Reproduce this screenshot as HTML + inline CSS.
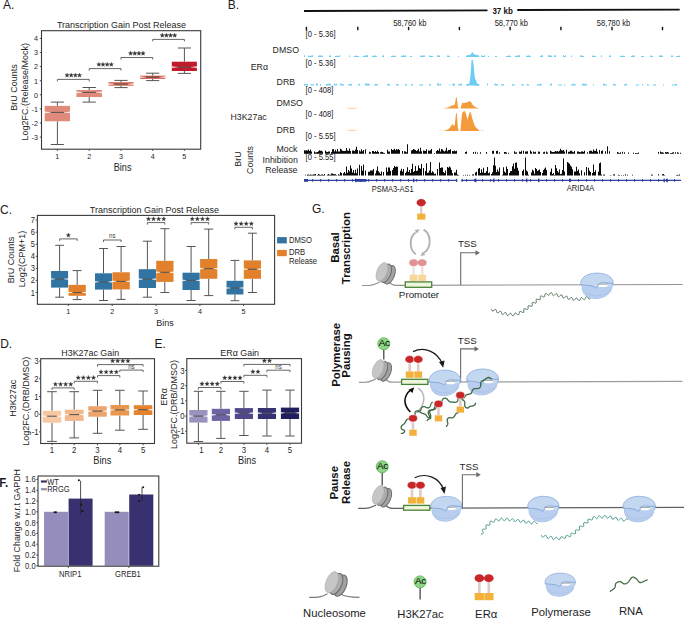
<!DOCTYPE html>
<html><head><meta charset="utf-8"><style>
html,body{margin:0;padding:0;background:#fff;width:685px;height:619px;overflow:hidden}
svg{display:block}
text{font-family:"Liberation Sans",sans-serif}
</style></head><body>
<svg width="685" height="619" viewBox="0 0 685 619">
<defs>
<g id="pol">
 <path d="M0.4 10.6 C0.4 4.2 8 0.2 16.6 0.2 C25.4 0.2 32.8 4.2 32.8 9.8 C32.8 12 32 13.6 31 15 C31 19.5 26.5 23 20.5 24.9 C16.5 26 10.5 25.8 6.5 23.4 C3 21 1.6 16.5 1.9 13.6 C1 12.6 0.4 11.6 0.4 10.6Z" fill="#c4d7f1" stroke="#86acdd" stroke-width="0.8"/>
 <path d="M1.9 13.2 C6 13.8 10 12.8 13.6 14.4 C16.4 15.8 18.8 16 19 14 L27 14 C29 13.6 31 13.8 31 15 C31 19.5 26.5 23 20.5 24.9 C16.5 26 10.5 25.8 6.5 23.4 C3 21 1.6 16.5 1.9 13.2Z" fill="#b9ceee"/>
 <path d="M4.5 19.5 C9 22.5 15 23.5 20.5 22.3 C25 21.3 28.5 19.2 30.6 16.2" fill="none" stroke="#a3bfe6" stroke-width="0.7"/>
 <ellipse cx="22.4" cy="12.2" rx="5.0" ry="2.0" fill="#ffffff"/>
 <line x1="17.5" y1="11.2" x2="27.3" y2="11.2" stroke="#8a8a8a" stroke-width="0.9"/>
 <path d="M0.8 11.8 C5 12.8 10 12 13.6 13.8 C16 15.4 17.2 15.4 17.3 13.4 C17.6 11 20 9.6 23 9.7 C26.5 9.9 29.5 10.5 32.8 10.4" fill="none" stroke="#78a0d6" stroke-width="0.85"/>
</g>
<g id="nuc">
 <ellipse cx="7.6" cy="3.0" rx="5.0" ry="9.8" transform="rotate(22 7.6 3.0)" fill="#a2a2a2" stroke="#6a6a6a" stroke-width="0.9"/>
 <ellipse cx="3.8" cy="1.5" rx="5.0" ry="9.8" transform="rotate(22 3.8 1.5)" fill="#ababab" stroke="#6a6a6a" stroke-width="0.9"/>
 <ellipse cx="0" cy="0" rx="5.0" ry="9.8" transform="rotate(22)" fill="#c6c6c6" stroke="#a8a8a8" stroke-width="0.5"/>
</g>
<g id="era">
 <rect x="-1.3" y="4" width="2.6" height="8" fill="#dccbc6"/>
 <rect x="-3.9" y="12" width="7.8" height="6.4" fill="#f2b13a"/>
 <ellipse cx="0" cy="0" rx="4.7" ry="3.8" fill="#c8272a" stroke="#fff" stroke-width="0.5"/>
</g>
<g id="ac">
 <circle cx="0" cy="0" r="6.0" fill="#8fd488" stroke="#5cb955" stroke-width="0.9"/>
 <text x="0.3" y="2.4" font-size="9.9" text-anchor="middle" fill="#000" letter-spacing="-0.3">Ac</text>
</g>
</defs>
<text transform="translate(339.2,247.5) rotate(-90)" font-size="11.4" text-anchor="middle" fill="#111" font-weight="bold">Basal</text>
<text transform="translate(350.1,248.1) rotate(-90)" font-size="11.4" text-anchor="middle" fill="#111" font-weight="bold">Transcription</text>
<path d="M362.0 285.5 L368.9 285.5 C373.9 285.5 375.9 283.7 379.9 282.1 M389.4 282.2 C391.4 284.8 392.9 285.4 395.9 285.4 L682.7 284.5" fill="none" stroke="#939393" stroke-width="1.1"/>
<use href="#nuc" transform="translate(381.9,271.8) scale(1.000)"/>
<rect x="405.3" y="281.9" width="26.4" height="5.4" fill="#eef5dd" stroke="#4a8236" stroke-width="1.3"/>
<text transform="translate(419.00,298.20) scale(1,0.92)" font-size="9.8" text-anchor="middle" fill="#1e1e1e">Promoter</text>
<use href="#era" transform="translate(413.6,262.7) scale(1.000)" opacity="0.5"/>
<use href="#era" transform="translate(422.2,262.7) scale(1.000)" opacity="0.5"/>
<path d="M415.8 254.2 C409.5 250, 408.6 237.5, 415.6 232.6" fill="none" stroke="#b0b0b0" stroke-width="1.8"/>
<path d="M419.6 229.2 L417.1 233.6 L414.6 230.0Z" fill="#b0b0b0"/>
<path d="M423.6 229.6 C431.2 233.5, 432 247.5, 424 252.8" fill="none" stroke="#b0b0b0" stroke-width="1.8"/>
<path d="M420.4 256.0 L422.8 251.5 L425.4 255.0Z" fill="#b0b0b0"/>
<rect x="420" y="206" width="2.4" height="8" fill="#dccbc6"/>
<rect x="417.2" y="213.6" width="8.2" height="6" fill="#f2b13a"/>
<ellipse cx="421.2" cy="202.6" rx="4.6" ry="3.6" fill="#c8272a"/>
<path d="M460.7 285.2 V252.8 H476.0" fill="none" stroke="#6c6c6c" stroke-width="1.1"/>
<path d="M475.5 250.2 L480.0 252.8 L475.5 255.4Z" fill="#6c6c6c"/>
<text transform="translate(457.90,247.40) scale(1,0.92)" font-size="9.7" text-anchor="start" fill="#1e1e1e">TSS</text>
<path d="M491.7 309.3 L491.8 309.8 L492.0 310.4 L492.2 310.9 L492.6 311.1 L493.2 310.9 L493.9 310.4 L494.7 309.8 L495.5 309.4 L496.0 309.6 L496.4 310.3 L496.6 311.4 L496.9 312.4 L497.4 312.9 L498.2 312.7 L499.1 312.0 L499.9 311.3 L500.6 311.1 L501.0 311.6 L501.4 312.4 L501.7 313.4 L502.0 314.2 L502.5 314.5 L503.1 314.3 L503.8 313.7 L504.5 313.0 L505.1 312.5 L505.7 312.5 L506.1 313.0 L506.5 313.8 L506.8 314.7 L507.3 315.4 L507.8 315.6 L508.4 315.3 L509.0 314.6 L509.6 313.9 L510.1 313.3 L510.5 313.2 L511.0 313.5 L511.4 314.2 L511.9 314.9 L512.4 315.6 L512.9 315.9 L513.4 315.8 L513.8 315.4 L514.2 314.7 L514.5 314.0 L514.8 313.3 L515.1 312.9 L515.5 312.9 L516.0 313.1 L516.5 313.6 L517.1 314.1 L517.7 314.6 L518.3 314.8 L518.7 314.7 L519.0 314.2 L519.2 313.5 L519.3 312.7 L519.5 311.9 L519.8 311.4 L520.1 311.3 L520.7 311.4 L521.5 311.8 L522.3 312.3 L523.0 312.5 L523.6 312.4 L523.8 311.8 L523.9 310.9 L523.8 310.0 L523.9 309.2 L524.2 308.7 L524.8 308.7 L525.6 308.9 L526.5 309.3 L527.3 309.5 L527.8 309.4 L528.1 309.0 L528.1 308.2 L528.1 307.3 L528.1 306.5 L528.2 305.9 L528.6 305.6 L529.1 305.7 L529.9 305.9 L530.7 306.2 L531.4 306.4 L531.9 306.3 L532.2 306.0 L532.3 305.4 L532.3 304.7 L532.2 303.9 L532.1 303.2 L532.2 302.7 L532.6 302.4 L533.2 302.4 L533.9 302.6 L534.6 302.9 L535.3 303.1 L535.9 303.1 L536.2 302.8 L536.3 302.3 L536.3 301.6 L536.2 300.7 L536.1 300.0 L536.2 299.4 L536.6 299.1 L537.1 299.1 L537.9 299.3 L538.7 299.6 L539.4 299.8 L539.9 299.8 L540.2 299.5 L540.3 299.0 L540.3 298.3 L540.3 297.5 L540.3 296.7 L540.4 296.2 L540.7 295.9 L541.2 295.9 L541.8 296.0 L542.4 296.4 L543.0 296.7 L543.6 297.0 L544.0 297.0 L544.4 296.9 L544.6 296.5 L544.7 295.9 L544.8 295.2 L544.9 294.5 L545.1 294.0 L545.3 293.6 L545.7 293.4 L546.1 293.5 L546.6 293.8 L547.1 294.2 L547.6 294.7 L548.0 295.1 L548.4 295.3 L548.7 295.4 L549.0 295.2 L549.2 294.9 L549.5 294.4 L549.8 293.9 L550.1 293.4 L550.5 292.9 L550.8 292.7 L551.2 292.6 L551.5 292.7 L551.8 293.1 L552.1 293.6 L552.4 294.1 L552.6 294.7 L552.8 295.2 L553.1 295.5 L553.4 295.7 L553.8 295.6 L554.2 295.3 L554.7 294.8 L555.2 294.3 L555.7 293.8 L556.1 293.5 L556.6 293.5 L556.9 293.8 L557.2 294.4 L557.5 295.2 L557.7 295.9 L558.0 296.5 L558.4 296.7 L558.9 296.7 L559.4 296.3 L560.0 295.7 L560.7 295.2 L561.2 294.8 L561.7 294.8 L562.0 295.2 L562.3 295.9 L562.6 296.7 L562.8 297.4 L563.2 297.9 L563.6 298.1 L564.1 297.9 L564.6 297.4 L565.2 296.9 L565.8 296.4 L566.4 296.1 L566.8 296.2 L567.2 296.7 L567.4 297.4 L567.7 298.3 L567.9 298.9 L568.3 299.4 L568.7 299.4 L569.3 299.1 L569.9 298.6 L570.4 298.0 L570.9 297.6 L571.4 297.4 L571.8 297.5 L572.1 297.9 L572.4 298.5 L572.6 299.1 L572.9 299.7 L573.2 300.2 L573.6 300.4 L573.9 300.4 L574.3 300.2 L574.7 299.8 L575.1 299.4 L575.5 298.8 L575.8 298.4 L576.1 298.1 L576.4 298.0 L576.7 298.1 L577.0 298.3 L577.4 298.7 L577.7 299.2 L578.0 299.8 L578.4 300.2 L578.7 300.5 L579.1 300.6 L579.5 300.5 L579.8 300.2 L580.1 299.7 L580.4 299.1 L580.6 298.5 L580.9 298.0 L581.2 297.7 L581.5 297.6 L581.9 297.7 L582.3 298.1 L582.8 298.5 L583.2 299.0 L583.7 299.4 L584.1 299.6 L584.4 299.7 L584.7 299.6 L585.0 299.2 L585.2 298.8 L585.4 298.2 L585.6 297.7 L585.9 297.2 L586.2 296.9 L586.4 296.7 L586.8 296.6 L587.1 296.8 L587.4 297.1 L587.8 297.5 L588.1 297.9 L588.4 298.4 L588.7 298.7 L589.0 299.0 L589.3 299.1 L589.6 299.0 L589.8 298.9 L590.0 298.7 L590.2 298.4 L590.4 298.1 L590.5 297.8 L590.7 297.5 L590.8 297.3" fill="none" stroke="#52705a" stroke-width="1.0" stroke-linecap="round" stroke-linejoin="round"/>
<use href="#pol" transform="translate(580.3,272.9) scale(1.003,1.000)"/>
<text transform="translate(339.6,354.8) rotate(-90)" font-size="11.4" text-anchor="middle" fill="#111" font-weight="bold">Polymerase</text>
<text transform="translate(349.5,355.5) rotate(-90)" font-size="11.4" text-anchor="middle" fill="#111" font-weight="bold">Pausing</text>
<path d="M358.9 382.3 L365.1 382.3 C370.1 382.3 372.1 380.5 376.1 378.9 M385.6 379.0 C387.6 381.6 389.1 382.2 392.1 382.2 L682.4 381.3" fill="none" stroke="#9c9c9c" stroke-width="1.3"/>
<line x1="383.8" y1="348.8" x2="383.8" y2="359.5" stroke="#3a3a3a" stroke-width="1.2"/>
<use href="#ac" transform="translate(383.8,343.8)"/>
<use href="#nuc" transform="translate(378.1,368.9) scale(1.000)"/>
<rect x="401.6" y="379.3" width="26.3" height="5.1" fill="#eef5dd" stroke="#4a8236" stroke-width="1.3"/>
<use href="#era" transform="translate(409.7,359.4) scale(1.000)"/>
<use href="#era" transform="translate(418.2,359.4) scale(1.000)"/>
<path d="M413 351.6 C425 346, 437 352, 442 363" fill="none" stroke="#1a1a1a" stroke-width="1.2"/>
<path d="M439 362 L443.2 367.8 L444.6 360.6Z" fill="#1a1a1a"/>
<path d="M410.4 412 C403 405, 403 396, 411 389.6" fill="none" stroke="#111" stroke-width="1.6"/>
<path d="M408.5 389.8 L414.2 387.2 L412.5 393Z" fill="#111"/>
<path d="M418 388.2 C426 393, 426 405, 416.3 412.7" fill="none" stroke="#b8b8b8" stroke-width="1.5"/>
<path d="M460.6 381.9 V348.9 H475.0" fill="none" stroke="#6c6c6c" stroke-width="1.1"/>
<path d="M474.5 346.3 L479.0 348.9 L474.5 351.5Z" fill="#6c6c6c"/>
<text transform="translate(457.80,344.00) scale(1,0.92)" font-size="9.7" text-anchor="start" fill="#1e1e1e">TSS</text>
<use href="#pol" transform="translate(428.8,369.9) scale(0.964,1.008)"/>
<use href="#pol" transform="translate(466.2,368.8) scale(0.985,1.020)"/>
<path d="M401.4 433.4 L401.5 433.4 L401.6 433.4 L401.8 433.3 L402.0 433.3 L402.2 433.3 L402.4 433.3 L402.6 433.2 L402.8 433.2 L403.0 433.1 L403.3 433.0 L403.5 432.9 L403.7 432.8 L403.9 432.6 L404.0 432.5 L404.2 432.3 L404.3 432.1 L404.5 431.9 L404.5 431.6 L404.6 431.3 L404.6 431.1 L404.6 430.8 L404.5 430.5 L404.4 430.3 L404.2 430.2 L404.1 430.1 L403.9 430.0 L403.7 429.9 L403.6 429.9 L403.4 429.9 L403.2 429.8 L403.0 429.8 L402.8 429.8 L402.6 429.7 L402.4 429.7 L402.2 429.6 L402.0 429.5 L401.9 429.3 L401.7 429.1 L401.5 428.9 L401.4 428.7 L401.3 428.5 L401.3 428.2 L401.2 428.0 L401.2 427.8 L401.2 427.5 L401.2 427.2 L401.2 427.0 L401.3 426.7 L401.4 426.4 L401.6 426.2 L401.7 425.9 L401.9 425.6 L402.1 425.4 L402.4 425.2 L402.6 425.0 L402.8 424.8 L403.0 424.6 L403.3 424.5 L403.5 424.3 L403.6 424.2 L403.8 424.1 L404.0 424.0 L404.1 423.9 L404.3 423.7 L404.4 423.6 L404.6 423.4 L404.7 423.2 L404.8 423.0 L405.0 422.8 L405.1 422.6 L405.2 422.3 L405.3 422.1 L405.5 421.8 L405.6 421.5 L405.7 421.2 L405.9 420.9 L406.1 420.7 L406.2 420.4 L406.4 420.1 L406.6 419.9 L406.9 419.6 L407.1 419.4 L407.5 419.3 L407.8 419.1 L408.2 419.1 L408.6 419.0 L409.0 419.1 L409.4 419.1 L409.8 419.2 L410.3 419.3 L410.7 419.4 L411.1 419.5 L411.5 419.5 L411.8 419.5 L412.2 419.5 L412.5 419.5 L412.7 419.5 L413.0 419.4 L413.2 419.3 L413.3 419.2" fill="none" stroke="#3e6a46" stroke-width="1.3" stroke-linecap="round" stroke-linejoin="round"/>
<path d="M413.0 418.3 L413.2 418.2 L413.4 418.0 L413.6 417.9 L413.9 417.7 L414.1 417.4 L414.4 417.2 L414.6 416.9 L414.8 416.6 L414.9 416.3 L415.0 415.9 L415.1 415.5 L415.1 415.1 L415.1 414.7 L415.1 414.3 L415.0 413.9 L415.0 413.5 L415.1 413.1 L415.1 412.7 L415.2 412.3 L415.4 412.0 L415.6 411.7 L415.8 411.5 L416.0 411.3 L416.2 411.1 L416.5 411.0 L416.8 410.9 L417.1 410.8 L417.4 410.8 L417.7 410.8 L418.1 410.8 L418.4 410.9 L418.7 411.0 L418.9 411.1 L419.2 411.3 L419.4 411.4 L419.7 411.6 L419.9 411.7 L420.1 411.9 L420.2 412.0 L420.4 412.2 L420.5 412.3 L420.6 412.4 L420.8 412.6 L421.0 412.7 L421.3 412.9 L421.6 413.0 L421.9 413.2 L422.3 413.3 L422.7 413.4 L423.1 413.5 L423.5 413.7 L423.9 413.8 L424.3 413.9 L424.7 414.1 L425.0 414.2 L425.2 414.4 L425.5 414.5 L425.7 414.7 L425.8 414.8 L426.0 415.0 L426.1 415.2 L426.3 415.4 L426.5 415.6 L426.6 415.9 L426.8 416.1 L426.9 416.3 L427.1 416.6 L427.2 416.8 L427.4 417.0 L427.6 417.2 L427.8 417.4 L428.0 417.5 L428.3 417.6 L428.5 417.7 L428.8 417.8 L429.1 417.8 L429.4 417.7 L429.7 417.6 L430.0 417.5 L430.2 417.3 L430.5 417.0 L430.6 416.7 L430.7 416.4 L430.8 416.1 L430.7 415.8 L430.7 415.4 L430.6 415.1 L430.5 414.8 L430.3 414.4 L430.2 414.0 L430.0 413.7 L429.9 413.3 L429.8 412.9 L429.7 412.5 L429.7 412.2 L429.7 411.8 L429.8 411.4 L430.0 411.1 L430.2 410.8 L430.4 410.5 L430.7 410.3 L430.9 410.2 L431.2 410.0 L431.5 409.9 L431.8 409.9 L432.1 409.8 L432.4 409.8 L432.7 409.8 L433.0 409.7 L433.3 409.7 L433.6 409.7 L433.9 409.6 L434.1 409.5 L434.4 409.4 L434.7 409.3 L434.9 409.2 L435.1 409.0 L435.3 408.8 L435.5 408.5 L435.6 408.3 L435.8 408.0 L435.9 407.7 L435.9 407.4 L436.0 407.1 L436.1 406.7 L436.1 406.4 L436.2 406.1 L436.3 405.7 L436.4 405.4 L436.5 405.1 L436.6 404.9 L436.7 404.6 L436.8 404.4 L437.0 404.2 L437.2 404.0 L437.3 403.9 L437.5 403.7 L437.7 403.6 L437.8 403.6 L437.9 403.5" fill="none" stroke="#3e6a46" stroke-width="1.3" stroke-linecap="round" stroke-linejoin="round"/>
<path d="M438.5 404.0 L438.7 404.0 L439.0 403.9 L439.2 403.8 L439.5 403.7 L439.8 403.6 L440.2 403.5 L440.5 403.3 L440.7 403.1 L441.0 402.9 L441.2 402.6 L441.4 402.3 L441.6 401.9 L441.7 401.5 L441.9 401.1 L442.0 400.7 L442.1 400.3 L442.3 400.0 L442.4 399.6 L442.6 399.3 L442.8 399.0 L443.1 398.8 L443.3 398.6 L443.5 398.4 L443.8 398.3 L444.1 398.2 L444.4 398.1 L444.7 398.1 L445.0 398.1 L445.3 398.2 L445.6 398.2 L445.9 398.3 L446.2 398.4 L446.4 398.6 L446.7 398.7 L446.9 398.9 L447.1 399.0 L447.3 399.2 L447.4 399.3 L447.6 399.5 L447.7 399.6 L447.7 399.7 L447.8 399.8 L447.8 399.9 L447.9 400.1 L448.0 400.2 L448.2 400.4 L448.4 400.6 L448.6 400.8 L448.8 401.0 L449.1 401.2 L449.4 401.4 L449.7 401.6 L450.0 401.7 L450.3 401.9 L450.6 402.0 L450.8 402.1 L451.0 402.1 L451.2 402.1 L451.3 402.1 L451.4 402.1 L451.6 402.0 L451.7 402.0 L451.9 402.0 L452.0 402.0 L452.2 402.0 L452.4 402.0 L452.6 402.1 L452.8 402.1 L453.1 402.1 L453.3 402.2 L453.6 402.2 L453.9 402.3 L454.2 402.3 L454.6 402.3 L454.9 402.4 L455.3 402.3 L455.6 402.3 L456.0 402.2 L456.3 402.1 L456.6 402.0 L456.9 401.8 L457.2 401.5 L457.5 401.2 L457.7 400.8 L457.8 400.4 L457.9 399.9 L457.9 399.4 L458.0 398.9 L458.0 398.4 L458.0 397.9 L458.1 397.4 L458.2 396.9 L458.3 396.6 L458.5 396.2 L458.7 395.9 L459.0 395.6 L459.2 395.4 L459.5 395.2 L459.8 395.1 L460.0 395.0" fill="none" stroke="#3e6a46" stroke-width="1.3" stroke-linecap="round" stroke-linejoin="round"/>
<path d="M460.3 395.2 L460.4 395.3 L460.4 395.5 L460.5 395.7 L460.5 395.9 L460.6 396.1 L460.7 396.3 L460.8 396.5 L460.9 396.8 L461.1 397.0 L461.3 397.2 L461.5 397.4 L461.7 397.6 L462.0 397.7 L462.3 397.9 L462.6 397.9 L462.9 398.0 L463.2 398.0 L463.5 397.9 L463.8 397.8 L464.1 397.7 L464.3 397.5 L464.5 397.3 L464.7 397.1 L464.8 396.8 L465.0 396.5 L465.2 396.3 L465.3 396.0 L465.5 395.7 L465.7 395.5 L465.9 395.2 L466.1 395.0 L466.4 394.9 L466.7 394.7 L467.0 394.6 L467.3 394.5 L467.7 394.4 L468.0 394.4 L468.4 394.3 L468.7 394.3 L469.0 394.2 L469.3 394.2 L469.6 394.1 L469.9 394.0 L470.1 393.9 L470.4 393.8 L470.6 393.7 L470.8 393.6 L471.0 393.4 L471.1 393.3 L471.3 393.1 L471.4 392.9 L471.5 392.8 L471.6 392.6 L471.7 392.4 L471.8 392.2 L471.8 392.0 L471.9 391.7 L472.0 391.5 L472.1 391.3 L472.2 391.0 L472.3 390.7 L472.4 390.5 L472.6 390.2 L472.7 389.9 L472.9 389.7 L473.1 389.5 L473.3 389.3 L473.6 389.1 L473.8 388.9 L474.1 388.8 L474.3 388.7 L474.6 388.6 L474.9 388.6 L475.1 388.5 L475.4 388.5 L475.7 388.5 L476.0 388.6 L476.3 388.6 L476.6 388.6 L477.0 388.6 L477.3 388.6 L477.6 388.6 L477.9 388.6 L478.2 388.5 L478.5 388.5 L478.7 388.4 L479.0 388.3 L479.2 388.2 L479.5 388.0 L479.7 387.8 L479.9 387.6 L480.1 387.4 L480.2 387.2 L480.4 386.9 L480.5 386.6 L480.6 386.3 L480.6 386.0 L480.7 385.8 L480.7 385.5 L480.7 385.2 L480.7 384.9 L480.7 384.7 L480.7 384.4 L480.6 384.1 L480.6 383.9 L480.6 383.6 L480.6 383.4 L480.7 383.1 L480.7 382.9 L480.8 382.6 L480.9 382.3 L481.1 382.1 L481.3 381.8 L481.5 381.6 L481.7 381.3 L481.9 381.1 L482.1 381.0 L482.3 380.8 L482.6 380.7 L482.8 380.6 L483.0 380.5 L483.2 380.4 L483.4 380.4 L483.5 380.3 L483.7 380.2 L483.8 380.2 L484.0 380.1 L484.1 380.1 L484.2 380.0 L484.4 379.9 L484.5 379.9 L484.6 379.8 L484.7 379.7 L484.8 379.6 L485.0 379.5 L485.1 379.4 L485.2 379.2 L485.4 379.1 L485.6 378.9 L485.8 378.8 L486.0 378.6 L486.2 378.4 L486.5 378.2 L486.8 378.0 L487.1 377.9 L487.4 377.7 L487.8 377.6 L488.2 377.5 L488.5 377.5 L488.9 377.5 L489.2 377.5 L489.5 377.6 L489.8 377.8 L490.1 377.9 L490.4 378.1 L490.6 378.3 L490.9 378.5 L491.1 378.6 L491.2 378.8 L491.4 378.9" fill="none" stroke="#3e6a46" stroke-width="1.3" stroke-linecap="round" stroke-linejoin="round"/>
<path d="M438.5 404.0 L438.2 404.0 L437.9 404.1 L437.5 404.1 L437.1 404.2 L436.7 404.4 L436.3 404.6 L435.9 404.8 L435.6 405.2 L435.3 405.6 L435.0 406.1 L434.8 406.6 L434.6 407.2 L434.4 407.7 L434.2 408.2 L434.0 408.7 L433.7 409.1 L433.4 409.4 L433.1 409.6 L432.8 409.8 L432.5 410.0 L432.2 410.1 L431.9 410.1 L431.7 410.2 L431.4 410.2 L431.2 410.2 L431.0 410.2 L430.8 410.2 L430.6 410.2 L430.5 410.2 L430.3 410.2 L430.1 410.2 L430.0 410.2 L429.8 410.3 L429.7 410.3 L429.5 410.4 L429.3 410.5 L429.2 410.6 L429.0 410.7 L428.8 410.9 L428.7 411.1 L428.5 411.3 L428.4 411.5 L428.3 411.8 L428.2 412.1 L428.2 412.3 L428.2 412.7 L428.2 413.0 L428.3 413.3 L428.4 413.6 L428.5 414.0 L428.6 414.3 L428.8 414.6 L428.9 414.9 L429.1 415.2 L429.2 415.5 L429.3 415.8 L429.4 416.0 L429.5 416.2 L429.6 416.3 L429.6 416.4 L429.7 416.4 L429.7 416.4 L429.6 416.4 L429.6 416.4 L429.6 416.4 L429.6 416.5 L429.7 416.5 L429.7 416.6 L429.8 416.7 L429.9 416.8 L430.0 416.9 L430.1 417.0 L430.3 417.1 L430.4 417.2 L430.5 417.3 L430.6 417.5 L430.7 417.7 L430.7 417.9 L430.7 418.1 L430.6 418.3 L430.5 418.4 L430.4 418.5 L430.2 418.6 L430.0 418.7 L429.8 418.8 L429.6 418.9 L429.3 419.0 L429.1 419.0 L428.9 419.1 L428.7 419.2 L428.4 419.3 L428.2 419.4 L428.0 419.6 L427.9 419.7 L427.7 419.8 L427.6 420.0 L427.5 420.1 L427.4 420.3 L427.3 420.4 L427.2 420.5" fill="none" stroke="#3e6a46" stroke-width="1.3" stroke-linecap="round" stroke-linejoin="round"/>
<path d="M460.3 395.2 L460.3 395.6 L460.2 396.2 L460.2 396.8 L460.3 397.4 L460.6 398.0 L461.0 398.6 L461.6 399.1 L462.4 399.6 L463.2 400.1 L463.9 400.7 L464.4 401.3 L464.7 402.0 L464.8 402.9 L464.8 403.8 L464.7 404.6 L464.8 405.4 L464.9 406.1 L465.1 406.7 L465.5 407.2 L465.8 407.5 L466.2 407.7 L466.6 407.9 L466.9 408.0 L467.3 408.0 L467.6 408.0 L467.8 408.0 L468.1 407.9 L468.2 407.9 L468.4 407.8 L468.5 407.6 L468.6 407.5 L468.7 407.4 L468.8 407.3 L469.0 407.1 L469.1 407.0 L469.3 406.9 L469.4 406.7 L469.6 406.6 L469.9 406.5 L470.1 406.4 L470.2 406.4 L470.5 406.3 L470.8 406.3 L471.1 406.2 L471.5 406.2 L471.9 406.1 L472.4 406.0 L472.8 405.9 L473.3 405.8 L473.7 405.6 L474.0 405.5 L474.4 405.2 L474.7 405.0 L474.9 404.7 L475.1 404.4 L475.2 404.1 L475.3 403.9 L475.4 403.6 L475.5 403.4 L475.6 403.2" fill="none" stroke="#3e6a46" stroke-width="1.3" stroke-linecap="round" stroke-linejoin="round"/>
<path d="M446.4 426.2 L446.6 426.0 L446.7 425.8 L446.9 425.6 L447.1 425.4 L447.3 425.1 L447.5 424.8 L447.6 424.5 L447.7 424.1 L447.8 423.8 L447.8 423.4 L447.8 423.0 L447.7 422.6 L447.6 422.2 L447.5 421.8 L447.4 421.3 L447.3 420.9 L447.2 420.5 L447.2 420.1 L447.2 419.7 L447.3 419.3 L447.4 419.0 L447.6 418.7 L447.9 418.4 L448.1 418.2 L448.4 418.0 L448.7 417.9 L449.0 417.8 L449.3 417.7 L449.7 417.7 L450.0 417.7 L450.3 417.7 L450.7 417.8 L451.0 417.8 L451.4 417.8 L451.7 417.8 L452.1 417.8 L452.4 417.8 L452.7 417.7 L453.0 417.6 L453.3 417.5 L453.6 417.3 L453.8 417.1 L454.1 416.8 L454.3 416.5 L454.5 416.2 L454.7 415.8 L454.9 415.4 L455.2 415.0 L455.4 414.6 L455.6 414.3 L455.8 413.9 L456.1 413.7 L456.3 413.4 L456.6 413.3 L456.9 413.1 L457.2 413.0 L457.4 412.9 L457.7 412.9 L457.9 412.9 L458.1 412.9" fill="none" stroke="#3e6a46" stroke-width="1.3" stroke-linecap="round" stroke-linejoin="round"/>
<path d="M418.0 412.0 L418.2 412.0 L418.4 411.9 L418.6 411.8 L418.9 411.7 L419.1 411.6 L419.4 411.5 L419.7 411.3 L419.9 411.1 L420.2 410.9 L420.4 410.7 L420.6 410.5 L420.7 410.2 L420.9 409.9 L421.0 409.6 L421.1 409.3 L421.2 408.9 L421.3 408.6 L421.5 408.2 L421.6 407.9 L421.8 407.6 L422.1 407.3 L422.3 407.1 L422.6 406.9 L422.9 406.8 L423.3 406.6 L423.6 406.6 L423.9 406.6 L424.3 406.6 L424.6 406.7 L424.9 406.8 L425.2 406.9 L425.6 407.1 L425.9 407.2 L426.2 407.4 L426.6 407.6 L426.9 407.7 L427.3 407.8 L427.6 407.9 L428.0 407.9 L428.4 407.8 L428.8 407.7 L429.1 407.6 L429.4 407.3 L429.7 407.1 L429.9 406.8 L430.1 406.4 L430.3 406.0 L430.5 405.6 L430.6 405.2 L430.7 404.8 L430.8 404.4 L431.0 404.0 L431.1 403.7 L431.3 403.3 L431.5 403.1 L431.7 402.9 L431.9 402.7 L432.1 402.5 L432.3 402.4 L432.4 402.3" fill="none" stroke="#3e6a46" stroke-width="1.2" stroke-linecap="round" stroke-linejoin="round"/>
<use href="#era" transform="translate(413.0,418.3) scale(0.950)"/>
<use href="#era" transform="translate(438.5,403.9) scale(0.950)"/>
<use href="#era" transform="translate(460.3,395.2) scale(0.950)"/>
<text transform="translate(337.6,482.8) rotate(-90)" font-size="11.4" text-anchor="middle" fill="#111" font-weight="bold">Pause</text>
<text transform="translate(350.3,482.5) rotate(-90)" font-size="11.4" text-anchor="middle" fill="#111" font-weight="bold">Release</text>
<path d="M358.1 508.4 L365.2 508.4 C370.2 508.4 372.2 506.6 376.2 505.0 M385.7 505.1 C387.7 507.7 389.2 508.3 392.2 508.3 L684.0 507.4" fill="none" stroke="#5c6166" stroke-width="1.15"/>
<line x1="382.2" y1="471.8" x2="382.2" y2="485.5" stroke="#3a3a3a" stroke-width="1.2"/>
<use href="#ac" transform="translate(382.2,466.8)"/>
<use href="#nuc" transform="translate(378.2,494.8) scale(1.000)"/>
<rect x="403.6" y="505.4" width="26.2" height="4.8" fill="#eef5dd" stroke="#4a8236" stroke-width="1.3"/>
<use href="#era" transform="translate(412.0,485.2) scale(1.000)"/>
<use href="#era" transform="translate(420.4,485.2) scale(1.000)"/>
<path d="M414.6 477.8 C427 472, 439 478, 443.5 489" fill="none" stroke="#1a1a1a" stroke-width="1.2"/>
<path d="M440.5 488 L444.5 494 L446 486.6Z" fill="#1a1a1a"/>
<path d="M462.4 508.0 V474.7 H476.8" fill="none" stroke="#6c6c6c" stroke-width="1.1"/>
<path d="M476.3 472.1 L480.8 474.7 L476.3 477.3Z" fill="#6c6c6c"/>
<text transform="translate(459.60,469.50) scale(1,0.92)" font-size="9.7" text-anchor="start" fill="#1e1e1e">TSS</text>
<path d="M481.4 533.9 L481.8 533.9 L482.3 533.9 L482.7 533.8 L483.1 533.6 L483.3 533.3 L483.3 532.9 L483.2 532.3 L482.9 531.6 L482.5 530.9 L482.3 530.2 L482.4 529.7 L482.8 529.4 L483.5 529.2 L484.3 529.2 L485.2 529.2 L485.8 529.1 L486.2 528.9 L486.3 528.4 L486.1 527.7 L485.9 526.9 L485.8 526.2 L485.8 525.5 L486.0 525.1 L486.4 524.9 L487.1 524.9 L487.9 525.1 L488.7 525.3 L489.4 525.3 L489.8 525.2 L490.0 524.7 L490.0 524.0 L490.0 523.2 L489.9 522.3 L490.0 521.7 L490.3 521.3 L490.8 521.2 L491.5 521.4 L492.2 521.7 L492.8 522.0 L493.4 522.2 L493.8 522.3 L494.1 522.2 L494.3 521.8 L494.5 521.3 L494.7 520.7 L494.8 520.1 L495.1 519.5 L495.3 519.1 L495.7 518.9 L496.1 518.8 L496.5 519.0 L496.9 519.4 L497.3 519.9 L497.8 520.4 L498.2 520.8 L498.6 521.0 L499.0 521.1 L499.3 520.8 L499.7 520.4 L500.0 519.8 L500.4 519.1 L500.8 518.5 L501.2 518.2 L501.6 518.2 L502.1 518.5 L502.6 519.0 L503.0 519.7 L503.5 520.3 L504.0 520.7 L504.4 520.7 L504.9 520.4 L505.4 519.8 L505.9 519.0 L506.4 518.4 L506.9 518.1 L507.4 518.2 L507.9 518.7 L508.3 519.5 L508.8 520.2 L509.2 520.8 L509.7 521.0 L510.2 520.7 L510.8 520.1 L511.4 519.4 L512.0 518.8 L512.6 518.6 L513.1 518.9 L513.6 519.6 L514.0 520.5 L514.5 521.3 L515.0 521.6 L515.5 521.5 L516.2 520.9 L516.9 520.1 L517.5 519.5 L518.1 519.4 L518.6 519.7 L519.0 520.4 L519.4 521.3 L519.9 522.0 L520.3 522.4 L520.9 522.3 L521.5 521.8 L522.1 521.1 L522.8 520.5 L523.4 520.2 L523.9 520.3 L524.3 520.9 L524.7 521.8 L525.1 522.6 L525.5 523.2 L526.0 523.3 L526.6 523.0 L527.2 522.4 L527.8 521.8 L528.3 521.2 L528.8 521.0 L529.2 521.2 L529.6 521.6 L530.0 522.3 L530.4 523.0 L530.8 523.6 L531.3 523.9 L531.7 523.9 L532.2 523.6 L532.6 523.0 L533.0 522.4 L533.4 521.8 L533.8 521.4 L534.2 521.2 L534.5 521.3 L534.9 521.6 L535.3 522.0 L535.7 522.5 L536.0 523.0 L536.3 523.3 L536.6 523.6 L536.8 523.7 L537.0 523.8 L537.2 523.7" fill="none" stroke="#46978b" stroke-width="1.0" stroke-linecap="round" stroke-linejoin="round"/>
<path d="M541.5 535.6 L541.6 536.0 L541.8 536.5 L542.1 536.9 L542.3 537.2 L542.7 537.2 L543.2 537.1 L543.7 536.7 L544.3 536.1 L544.9 535.6 L545.5 535.3 L546.0 535.3 L546.4 535.8 L546.7 536.6 L547.1 537.4 L547.4 538.1 L547.9 538.5 L548.4 538.4 L549.0 538.0 L549.6 537.4 L550.1 536.8 L550.6 536.4 L551.1 536.3 L551.5 536.5 L551.8 537.0 L552.1 537.6 L552.4 538.3 L552.6 538.9 L553.0 539.4 L553.4 539.6 L553.8 539.5 L554.3 539.1 L554.8 538.6 L555.3 538.0 L555.7 537.5 L556.2 537.2 L556.6 537.3 L557.0 537.6 L557.5 538.3 L558.1 539.0 L558.8 539.6 L559.4 539.6 L559.9 539.2 L560.4 538.2 L560.8 537.2 L561.3 536.6 L562.0 536.7 L562.9 537.4 L563.9 538.2 L564.7 538.5 L565.3 538.0 L565.8 536.9 L566.1 535.7 L566.7 535.1 L567.6 535.4 L568.6 536.1 L569.6 536.7 L570.4 536.6 L570.8 535.7 L570.9 534.5 L571.1 533.5 L571.6 533.0 L572.4 533.2 L573.5 533.6 L574.6 533.9 L575.3 533.7 L575.6 532.9 L575.5 531.7 L575.4 530.6 L575.7 529.9 L576.5 529.8 L577.7 530.1 L578.8 530.3 L579.5 530.0 L579.7 529.3 L579.5 528.1 L579.4 527.0 L579.6 526.2 L580.4 526.0 L581.4 526.3 L582.5 526.6 L583.3 526.6 L583.7 526.1 L583.8 525.2 L583.6 524.0 L583.7 523.1 L584.1 522.6 L584.9 522.6 L585.9 522.8 L586.9 523.1 L587.7 523.0 L588.0 522.5 L588.0 521.5 L587.9 520.5 L588.0 519.6 L588.4 519.1 L589.0 519.0 L589.9 519.4 L590.8 519.8 L591.5 520.0 L592.0 520.0 L592.3 519.6 L592.5 518.9 L592.7 518.1 L592.9 517.3 L593.3 516.7 L593.7 516.5 L594.3 516.6 L594.8 517.1 L595.4 517.6 L595.9 518.2 L596.4 518.6 L596.8 518.7 L597.2 518.5 L597.6 518.0 L597.9 517.3 L598.3 516.7 L598.7 516.1 L599.1 515.8 L599.5 515.7 L599.9 516.0 L600.3 516.4 L600.8 517.0 L601.2 517.5 L601.6 517.9 L602.0 518.1 L602.3 518.1 L602.7 517.9 L603.0 517.5 L603.3 517.0 L603.7 516.5 L604.0 516.0 L604.4 515.6 L604.8 515.4 L605.2 515.5 L605.6 515.8 L606.0 516.4 L606.4 517.1 L606.8 517.7 L607.2 518.2 L607.6 518.3 L608.2 518.0 L608.8 517.3 L609.6 516.6 L610.3 516.1 L610.9 516.2 L611.4 517.0 L611.9 518.1 L612.3 519.0 L613.0 519.3 L613.8 518.8 L614.7 518.0 L615.5 517.3 L616.2 517.3 L616.7 518.0 L617.1 519.1 L617.6 520.0 L618.1 520.4 L618.8 520.3 L619.4 519.7 L620.1 519.0 L620.6 518.5 L621.1 518.2 L621.6 518.4 L622.0 518.9 L622.4 519.6 L622.8 520.3 L623.2 520.9 L623.6 521.2 L624.0 521.2 L624.4 520.9 L624.9 520.4 L625.3 519.9 L625.7 519.4 L626.0 519.0 L626.3 518.8 L626.6 518.7 L626.9 518.8 L627.2 518.9 L627.4 519.2 L627.6 519.4" fill="none" stroke="#46978b" stroke-width="1.0" stroke-linecap="round" stroke-linejoin="round"/>
<use href="#pol" transform="translate(430.4,496.2) scale(0.955,0.977)"/>
<use href="#pol" transform="translate(527.3,496.1) scale(0.967,1.004)"/>
<use href="#pol" transform="translate(622.6,496.1) scale(0.997,1.004)"/>
<path d="M309.2 597.4 C318 597.4 322 597.2 327.5 593.8 M340.5 594 C345 596.8 350 597.4 359.4 597.4" fill="none" stroke="#7a7a7a" stroke-width="1.1"/>
<use href="#nuc" transform="translate(331.8,582.2) scale(1.14)"/>
<text transform="translate(334.50,616.50) scale(1,1.0)" font-size="11.3" text-anchor="middle" fill="#1e1e1e">Nucleosome</text>
<line x1="420.1" y1="586.9" x2="420.1" y2="599.4" stroke="#3a3a3a" stroke-width="1.2"/>
<use href="#ac" transform="translate(420.1,581.9)"/>
<text transform="translate(420.50,617.50) scale(1,1.0)" font-size="11.3" text-anchor="middle" fill="#1e1e1e">H3K27ac</text>
<rect x="478" y="581" width="2.6" height="12" fill="#dccbc6"/><rect x="487.5" y="581" width="2.6" height="12" fill="#dccbc6"/>
<rect x="474.7" y="593" width="9.2" height="7.2" fill="#f2b13a"/><rect x="484.3" y="593" width="9.2" height="7.2" fill="#f2b13a"/>
<ellipse cx="479.4" cy="578.2" rx="4.8" ry="3.9" fill="#c8272a"/><ellipse cx="488.8" cy="578.2" rx="4.8" ry="3.9" fill="#c8272a"/>
<text transform="translate(486.20,618.30) scale(1,1.0)" font-size="11.3" text-anchor="middle" fill="#1e1e1e">ER&#945;</text>
<use href="#pol" transform="translate(544.6,572.9) scale(0.939,0.910)"/>
<text transform="translate(561.00,616.10) scale(1,1.0)" font-size="11.3" text-anchor="middle" fill="#1e1e1e">Polymerase</text>
<path d="M610.3 591.3 L610.6 591.1 L610.9 590.8 L611.4 590.5 L611.9 590.2 L612.4 589.8 L613.0 589.4 L613.5 589.0 L614.0 588.6 L614.4 588.2 L614.7 587.8 L614.9 587.4 L615.1 586.9 L615.2 586.5 L615.3 586.0 L615.3 585.5 L615.4 585.0 L615.4 584.6 L615.5 584.1 L615.7 583.7 L615.9 583.4 L616.2 583.1 L616.5 582.8 L616.9 582.5 L617.3 582.3 L617.8 582.1 L618.2 581.9 L618.7 581.8 L619.1 581.7 L619.6 581.6 L620.0 581.6 L620.4 581.7 L620.9 581.9 L621.3 582.1 L621.7 582.4 L622.2 582.7 L622.6 583.0 L623.1 583.4 L623.5 583.6 L623.9 583.8 L624.3 583.9 L624.7 583.9 L625.1 583.9 L625.4 583.9 L625.8 583.8 L626.1 583.7 L626.4 583.5 L626.8 583.3 L627.1 583.1 L627.5 582.8 L627.9 582.5 L628.3 582.1 L628.7 581.6 L629.1 581.0 L629.6 580.4 L630.0 579.7 L630.4 579.1 L630.9 578.5 L631.3 578.0 L631.8 577.6 L632.2 577.3 L632.6 577.2 L633.1 577.2 L633.5 577.2 L634.0 577.4 L634.5 577.6 L634.9 577.9 L635.3 578.1 L635.8 578.4 L636.2 578.7 L636.6 579.0 L637.0 579.3 L637.3 579.7 L637.6 580.1 L637.9 580.6 L638.2 581.0 L638.5 581.5 L638.8 581.8 L639.2 582.2 L639.6 582.4 L640.1 582.5 L640.7 582.5 L641.4 582.3 L642.2 582.1 L643.0 581.8 L643.8 581.4 L644.6 581.0 L645.4 580.7 L646.1 580.4 L646.7 580.1 L647.1 579.9" fill="none" stroke="#4a6e4a" stroke-width="1.3" stroke-linecap="round" stroke-linejoin="round"/>
<text transform="translate(630.80,614.50) scale(1,1.0)" font-size="11.3" text-anchor="middle" fill="#1e1e1e">RNA</text>
<text transform="translate(3.0,8.8) scale(1,1.1)" font-size="12.0" fill="#1a1a1a">A.</text>
<text transform="translate(121.50,27.60) scale(1,1.1)" font-size="9" text-anchor="middle" fill="#262626">Transcription Gain Post Release</text>
<line x1="57.4" y1="102.1" x2="57.4" y2="105.9" stroke="#555555" stroke-width="1"/>
<line x1="57.4" y1="121.3" x2="57.4" y2="144.5" stroke="#555555" stroke-width="1"/>
<line x1="50.8" y1="102.1" x2="63.9" y2="102.1" stroke="#555555" stroke-width="1"/>
<line x1="50.8" y1="144.5" x2="63.9" y2="144.5" stroke="#555555" stroke-width="1"/>
<rect x="44.7" y="105.9" width="25.3" height="15.4" fill="#df8a7b" stroke="none" stroke-width="1"/>
<path d="M44.4 111.55 L50.8 112.20 L50.8 112.60 L44.4 113.25Z M70.3 111.55 L63.9 112.20 L63.9 112.60 L70.3 113.25Z" fill="#ffffff" fill-opacity="0.85"/>
<line x1="50.8" y1="112.4" x2="63.9" y2="112.4" stroke="#555555" stroke-width="1.05"/>
<line x1="89.2" y1="87.5" x2="89.2" y2="90.0" stroke="#555555" stroke-width="1"/>
<line x1="89.2" y1="97.0" x2="89.2" y2="102.1" stroke="#555555" stroke-width="1"/>
<line x1="82.5" y1="87.5" x2="95.9" y2="87.5" stroke="#555555" stroke-width="1"/>
<line x1="82.5" y1="102.1" x2="95.9" y2="102.1" stroke="#555555" stroke-width="1"/>
<rect x="76.4" y="90.0" width="25.6" height="7.0" fill="#df8a7b" stroke="none" stroke-width="1"/>
<path d="M76.1 91.55 L82.5 92.20 L82.5 92.60 L76.1 93.25Z M102.3 91.55 L95.9 92.20 L95.9 92.60 L102.3 93.25Z" fill="#ffffff" fill-opacity="0.85"/>
<line x1="82.5" y1="92.4" x2="95.9" y2="92.4" stroke="#555555" stroke-width="1.05"/>
<line x1="121.0" y1="80.4" x2="121.0" y2="82.2" stroke="#555555" stroke-width="1"/>
<line x1="121.0" y1="85.7" x2="121.0" y2="87.6" stroke="#555555" stroke-width="1"/>
<line x1="114.4" y1="80.4" x2="127.6" y2="80.4" stroke="#555555" stroke-width="1"/>
<line x1="114.4" y1="87.6" x2="127.6" y2="87.6" stroke="#555555" stroke-width="1"/>
<rect x="108.4" y="82.2" width="25.2" height="3.5" fill="#d8614f" stroke="none" stroke-width="1"/>
<path d="M108.1 83.25 L114.4 83.90 L114.4 84.30 L108.1 84.95Z M133.9 83.25 L127.6 83.90 L127.6 84.30 L133.9 84.95Z" fill="#ffffff" fill-opacity="0.85"/>
<line x1="114.4" y1="84.1" x2="127.6" y2="84.1" stroke="#555555" stroke-width="1.05"/>
<line x1="152.7" y1="73.2" x2="152.7" y2="75.7" stroke="#555555" stroke-width="1"/>
<line x1="152.7" y1="78.8" x2="152.7" y2="80.6" stroke="#555555" stroke-width="1"/>
<line x1="146.1" y1="73.2" x2="159.2" y2="73.2" stroke="#555555" stroke-width="1"/>
<line x1="146.1" y1="80.6" x2="159.2" y2="80.6" stroke="#555555" stroke-width="1"/>
<rect x="140.0" y="75.7" width="25.3" height="3.1" fill="#d24f43" stroke="none" stroke-width="1"/>
<path d="M139.7 76.25 L146.1 76.90 L146.1 77.30 L139.7 77.95Z M165.6 76.25 L159.2 76.90 L159.2 77.30 L165.6 77.95Z" fill="#ffffff" fill-opacity="0.85"/>
<line x1="146.1" y1="77.1" x2="159.2" y2="77.1" stroke="#555555" stroke-width="1.05"/>
<line x1="184.4" y1="48.0" x2="184.4" y2="61.7" stroke="#555555" stroke-width="1"/>
<line x1="184.4" y1="71.0" x2="184.4" y2="73.4" stroke="#555555" stroke-width="1"/>
<line x1="177.8" y1="48.0" x2="190.9" y2="48.0" stroke="#555555" stroke-width="1"/>
<line x1="177.8" y1="73.4" x2="190.9" y2="73.4" stroke="#555555" stroke-width="1"/>
<rect x="171.8" y="61.7" width="25.1" height="9.3" fill="#c01a2c" stroke="none" stroke-width="1"/>
<path d="M171.5 66.25 L177.8 66.90 L177.8 67.30 L171.5 67.95Z M197.2 66.25 L190.9 66.90 L190.9 67.30 L197.2 67.95Z" fill="#ffffff" fill-opacity="0.85"/>
<line x1="177.8" y1="67.1" x2="190.9" y2="67.1" stroke="#555555" stroke-width="1.05"/>
<rect x="41.5" y="30.7" width="159.2" height="118.5" fill="none" stroke="#3a3a3a" stroke-width="1.1"/>
<line x1="39.8" y1="38.4" x2="41.5" y2="38.4" stroke="#3a3a3a" stroke-width="0.9"/>
<text transform="translate(38.00,41.29) scale(1,1.1)" font-size="7.2" text-anchor="end" fill="#262626">4</text>
<line x1="39.8" y1="52.5" x2="41.5" y2="52.5" stroke="#3a3a3a" stroke-width="0.9"/>
<text transform="translate(38.00,55.39) scale(1,1.1)" font-size="7.2" text-anchor="end" fill="#262626">3</text>
<line x1="39.8" y1="66.6" x2="41.5" y2="66.6" stroke="#3a3a3a" stroke-width="0.9"/>
<text transform="translate(38.00,69.49) scale(1,1.1)" font-size="7.2" text-anchor="end" fill="#262626">2</text>
<line x1="39.8" y1="80.7" x2="41.5" y2="80.7" stroke="#3a3a3a" stroke-width="0.9"/>
<text transform="translate(38.00,83.59) scale(1,1.1)" font-size="7.2" text-anchor="end" fill="#262626">1</text>
<line x1="39.8" y1="94.8" x2="41.5" y2="94.8" stroke="#3a3a3a" stroke-width="0.9"/>
<text transform="translate(38.00,97.69) scale(1,1.1)" font-size="7.2" text-anchor="end" fill="#262626">0</text>
<line x1="39.8" y1="108.9" x2="41.5" y2="108.9" stroke="#3a3a3a" stroke-width="0.9"/>
<text transform="translate(38.00,111.79) scale(1,1.1)" font-size="7.2" text-anchor="end" fill="#262626">-1</text>
<line x1="39.8" y1="123.0" x2="41.5" y2="123.0" stroke="#3a3a3a" stroke-width="0.9"/>
<text transform="translate(38.00,125.89) scale(1,1.1)" font-size="7.2" text-anchor="end" fill="#262626">-2</text>
<line x1="39.8" y1="137.1" x2="41.5" y2="137.1" stroke="#3a3a3a" stroke-width="0.9"/>
<text transform="translate(38.00,139.99) scale(1,1.1)" font-size="7.2" text-anchor="end" fill="#262626">-3</text>
<line x1="57.4" y1="149.2" x2="57.4" y2="150.9" stroke="#3a3a3a" stroke-width="0.9"/>
<text transform="translate(57.35,158.60) scale(1,1.1)" font-size="7.2" text-anchor="middle" fill="#262626">1</text>
<line x1="89.2" y1="149.2" x2="89.2" y2="150.9" stroke="#3a3a3a" stroke-width="0.9"/>
<text transform="translate(89.20,158.60) scale(1,1.1)" font-size="7.2" text-anchor="middle" fill="#262626">2</text>
<line x1="121.0" y1="149.2" x2="121.0" y2="150.9" stroke="#3a3a3a" stroke-width="0.9"/>
<text transform="translate(121.00,158.60) scale(1,1.1)" font-size="7.2" text-anchor="middle" fill="#262626">3</text>
<line x1="152.7" y1="149.2" x2="152.7" y2="150.9" stroke="#3a3a3a" stroke-width="0.9"/>
<text transform="translate(152.65,158.60) scale(1,1.1)" font-size="7.2" text-anchor="middle" fill="#262626">4</text>
<line x1="184.4" y1="149.2" x2="184.4" y2="150.9" stroke="#3a3a3a" stroke-width="0.9"/>
<text transform="translate(184.35,158.60) scale(1,1.1)" font-size="7.2" text-anchor="middle" fill="#262626">5</text>
<text transform="translate(122.60,170.50) scale(1,1.1)" font-size="9.2" text-anchor="middle" fill="#262626">Bins</text>
<text transform="translate(17.2,87.6) rotate(-90)" font-size="9" text-anchor="middle" fill="#262626">BrU Counts</text>
<text transform="translate(27.9,91.8) rotate(-90)" font-size="9" text-anchor="middle" fill="#262626">Log2FC.(Release/Mock)</text>
<path d="M57.4 81.4 V79.4 H89.2 V81.4" fill="none" stroke="#4a4a4a" stroke-width="0.85"/>
<path d="M67.05 73.00L67.64 74.49L69.24 74.59L68.00 75.61L68.40 77.16L67.05 76.30L65.70 77.16L66.10 75.61L64.86 74.59L66.46 74.49ZM71.20 73.00L71.79 74.49L73.39 74.59L72.15 75.61L72.55 77.16L71.20 76.30L69.85 77.16L70.25 75.61L69.01 74.59L70.61 74.49ZM75.35 73.00L75.94 74.49L77.54 74.59L76.30 75.61L76.70 77.16L75.35 76.30L74.00 77.16L74.40 75.61L73.16 74.59L74.76 74.49ZM79.50 73.00L80.09 74.49L81.69 74.59L80.45 75.61L80.85 77.16L79.50 76.30L78.15 77.16L78.55 75.61L77.31 74.59L78.91 74.49Z" fill="#333" stroke="#333" stroke-width="0.3"/>
<path d="M89.2 70.6 V68.6 H121.0 V70.6" fill="none" stroke="#4a4a4a" stroke-width="0.85"/>
<path d="M98.88 62.20L99.46 63.69L101.06 63.79L99.83 64.81L100.23 66.36L98.88 65.50L97.52 66.36L97.92 64.81L96.69 63.79L98.29 63.69ZM103.03 62.20L103.61 63.69L105.21 63.79L103.98 64.81L104.38 66.36L103.03 65.50L101.67 66.36L102.07 64.81L100.84 63.79L102.44 63.69ZM107.17 62.20L107.76 63.69L109.36 63.79L108.13 64.81L108.53 66.36L107.17 65.50L105.82 66.36L106.22 64.81L104.99 63.79L106.59 63.69ZM111.33 62.20L111.91 63.69L113.51 63.79L112.28 64.81L112.68 66.36L111.33 65.50L109.97 66.36L110.37 64.81L109.14 63.79L110.74 63.69Z" fill="#333" stroke="#333" stroke-width="0.3"/>
<path d="M121.0 59.5 V57.5 H152.7 V59.5" fill="none" stroke="#4a4a4a" stroke-width="0.85"/>
<path d="M130.60 51.10L131.19 52.59L132.79 52.69L131.55 53.71L131.95 55.26L130.60 54.40L129.25 55.26L129.65 53.71L128.41 52.69L130.01 52.59ZM134.75 51.10L135.34 52.59L136.94 52.69L135.70 53.71L136.10 55.26L134.75 54.40L133.40 55.26L133.80 53.71L132.56 52.69L134.16 52.59ZM138.90 51.10L139.49 52.59L141.09 52.69L139.85 53.71L140.25 55.26L138.90 54.40L137.55 55.26L137.95 53.71L136.71 52.69L138.31 52.59ZM143.05 51.10L143.64 52.59L145.24 52.69L144.00 53.71L144.40 55.26L143.05 54.40L141.70 55.26L142.10 53.71L140.86 52.69L142.46 52.59Z" fill="#333" stroke="#333" stroke-width="0.3"/>
<path d="M152.7 41.4 V39.4 H184.4 V41.4" fill="none" stroke="#4a4a4a" stroke-width="0.85"/>
<path d="M162.28 33.10L162.86 34.59L164.46 34.69L163.23 35.71L163.63 37.26L162.28 36.40L160.92 37.26L161.32 35.71L160.09 34.69L161.69 34.59ZM166.43 33.10L167.01 34.59L168.61 34.69L167.38 35.71L167.78 37.26L166.43 36.40L165.07 37.26L165.47 35.71L164.24 34.69L165.84 34.59ZM170.58 33.10L171.16 34.59L172.76 34.69L171.53 35.71L171.93 37.26L170.58 36.40L169.22 37.26L169.62 35.71L168.39 34.69L169.99 34.59ZM174.72 33.10L175.31 34.59L176.91 34.69L175.68 35.71L176.08 37.26L174.72 36.40L173.37 37.26L173.77 35.71L172.54 34.69L174.14 34.59Z" fill="#333" stroke="#333" stroke-width="0.3"/>
<text transform="translate(227.8,9.0) scale(1,1.1)" font-size="12.0" fill="#1a1a1a">B.</text>
<line x1="304.0" y1="11.0" x2="487.5" y2="10.4" stroke="#111" stroke-width="1.8"/>
<line x1="517.3" y1="10.0" x2="679.7" y2="9.7" stroke="#111" stroke-width="1.8"/>
<text transform="translate(492.40,14.10) scale(1,1.1)" font-size="8.0" text-anchor="start" fill="#111" font-weight="bold">37 kb</text>
<line x1="306.4" y1="26.8" x2="306.4" y2="30.2" stroke="#111" stroke-width="1.4"/>
<line x1="357.8" y1="26.8" x2="357.8" y2="30.2" stroke="#111" stroke-width="1.4"/>
<line x1="408.6" y1="26.8" x2="408.6" y2="30.2" stroke="#111" stroke-width="1.4"/>
<line x1="459.4" y1="26.8" x2="459.4" y2="30.2" stroke="#111" stroke-width="1.4"/>
<line x1="510.1" y1="26.8" x2="510.1" y2="30.2" stroke="#111" stroke-width="1.4"/>
<line x1="560.9" y1="26.8" x2="560.9" y2="30.2" stroke="#111" stroke-width="1.4"/>
<line x1="612.0" y1="26.8" x2="612.0" y2="30.2" stroke="#111" stroke-width="1.4"/>
<line x1="662.5" y1="26.8" x2="662.5" y2="30.2" stroke="#111" stroke-width="1.4"/>
<text transform="translate(409.80,26.30) scale(1,1.1)" font-size="7.6" text-anchor="middle" fill="#222">58,760 kb</text>
<text transform="translate(511.30,26.30) scale(1,1.1)" font-size="7.6" text-anchor="middle" fill="#222">58,770 kb</text>
<text transform="translate(613.50,26.30) scale(1,1.1)" font-size="7.6" text-anchor="middle" fill="#222">58,780 kb</text>
<text transform="translate(305.60,37.20) scale(1,1.1)" font-size="7.6" text-anchor="start" fill="#222">[0 - 5.36]</text>
<text transform="translate(305.60,65.70) scale(1,1.1)" font-size="7.6" text-anchor="start" fill="#222">[0 - 5.36]</text>
<text transform="translate(305.60,92.90) scale(1,1.1)" font-size="7.6" text-anchor="start" fill="#222">[0 - 408]</text>
<text transform="translate(305.60,116.90) scale(1,1.1)" font-size="7.6" text-anchor="start" fill="#222">[0 - 408]</text>
<text transform="translate(305.60,139.20) scale(1,1.1)" font-size="7.6" text-anchor="start" fill="#222">[0 - 5.55]</text>
<text transform="translate(305.60,160.30) scale(1,1.1)" font-size="7.6" text-anchor="start" fill="#222">[0 - 5.55]</text>
<text transform="translate(272.60,52.80) scale(1,1.1)" font-size="8.8" text-anchor="start" fill="#262626">DMSO</text>
<text transform="translate(250.70,70.00) scale(1,1.1)" font-size="8.8" text-anchor="start" fill="#262626">ER&#945;</text>
<text transform="translate(276.60,84.70) scale(1,1.1)" font-size="8.8" text-anchor="start" fill="#262626">DRB</text>
<text transform="translate(276.50,106.30) scale(1,1.1)" font-size="8.8" text-anchor="start" fill="#262626">DMSO</text>
<text transform="translate(230.50,119.60) scale(1,1.1)" font-size="8.8" text-anchor="start" fill="#262626">H3K27ac</text>
<text transform="translate(276.50,133.40) scale(1,1.1)" font-size="8.8" text-anchor="start" fill="#262626">DRB</text>
<text transform="translate(276.50,151.50) scale(1,1.1)" font-size="8.8" text-anchor="start" fill="#262626">Mock</text>
<text transform="translate(262.60,162.80) scale(1,1.1)" font-size="8.8" text-anchor="start" fill="#262626">Inhibition</text>
<text transform="translate(265.20,173.30) scale(1,1.1)" font-size="8.8" text-anchor="start" fill="#262626">Release</text>
<text transform="translate(241.3,159.1) rotate(-90)" font-size="8.9" text-anchor="middle" fill="#262626">BrU</text>
<text transform="translate(252.5,160.0) rotate(-90)" font-size="8.8" text-anchor="middle" fill="#262626">Counts</text>
<path d="M304.0 153.7V150.3H305.0V150.6H306.0V150.2H307.0V150.4H308.0V149.5H309.0V151.0H310.0V149.4H311.0V151.6H312.0V153.7H313.0V153.7H314.0V151.4H315.0V152.4H316.0V152.3H317.0V152.1H318.0V151.2H319.0V150.2H320.0V150.8H321.0V150.7H322.0V151.6H323.0V153.7H324.0V153.7H325.0V150.6H326.0V151.7H327.0V152.0H328.0V151.4H329.0V151.4H330.0V153.7H331.0V152.0H332.0V149.2H333.0V149.0H334.0V151.6H335.0V149.7H336.0V151.5H337.0V149.0H338.0V151.5H339.0V151.5H340.0V148.7H341.0V149.6H342.0V150.8H343.0V151.0H344.0V151.0H345.0V150.8H346.0V148.0H347.0V150.5H348.0V150.8H349.0V148.5H350.0V151.1H351.0V153.7H352.0V150.6H353.0V150.4H354.0V151.1H355.0V149.6H356.0V146.7H357.0V150.0H358.0V153.7H359.0V150.4H360.0V151.4H361.0V149.3H362.0V151.3H363.0V149.9H364.0V153.7H365.0V149.2H366.0V153.7H367.0V153.7H368.0V153.7H369.0V151.7H370.0V152.3H371.0V153.7H372.0V151.1H373.0V150.9H374.0V151.9H375.0V151.1H376.0V152.1H377.0V150.8H378.0V152.0H379.0V153.7H380.0V152.3H381.0V151.7H382.0V152.1H383.0V152.8H384.0V152.9H385.0V153.7H386.0V153.7H387.0V149.8H388.0V151.4H389.0V151.6H390.0V153.7H391.0V148.9H392.0V150.0H393.0V149.7H394.0V148.8H395.0V150.3H396.0V149.1H397.0V149.8H398.0V149.1H399.0V149.9H400.0V153.7H401.0V153.7H402.0V150.9H403.0V153.7H404.0V151.3H405.0V151.4H406.0V152.3H407.0V144.2H408.0V153.7H409.0V153.7H410.0V153.7H411.0V150.6H412.0V150.0H413.0V149.1H414.0V149.4H415.0V150.0H416.0V151.1H417.0V150.3H418.0V148.8H419.0V151.5H420.0V147.7H421.0V151.2H422.0V153.7H423.0V150.5H424.0V150.8H425.0V151.1H426.0V149.2H427.0V153.7H428.0V150.6H429.0V150.8H430.0V150.3H431.0V149.1H432.0V153.7H433.0V153.7H434.0V153.1H435.0V153.7H436.0V151.1H437.0V149.9H438.0V150.8H439.0V148.6H440.0V151.4H441.0V149.0H442.0V149.6H443.0V150.8H444.0V151.5H445.0V150.4H446.0V147.7H447.0V151.3H448.0V149.9H449.0V149.9H450.0V149.2H451.0V153.7H452.0V151.1H453.0V151.2H454.0V150.4H455.0V151.2H456.0V150.7H457.0V153.7H458.0V153.7H459.0V153.7H460.0V153.7H461.0V153.7H462.0V153.7H463.0V153.7H464.0V153.7H465.0V152.0H466.0V151.6H467.0V153.7H468.0V153.7H469.0V153.7H470.0V153.7H471.0V153.7H472.0V153.7H473.0V152.0H474.0V153.7H475.0V151.8H476.0V153.7H477.0V152.5H478.0V153.7H479.0V153.7H480.0V152.3H481.0V153.7H482.0V153.7H483.0V153.7H484.0V153.7H485.0V153.7H486.0V152.1H487.0V153.7H488.0V153.7H489.0V153.7H490.0V153.7H491.0V153.7H492.0V151.1H493.0V150.7H494.0V153.7H495.0V153.7H496.0V150.9H497.0V150.7H498.0V153.7H499.0V152.3H500.0V153.7H501.0V153.7H502.0V153.7H503.0V153.7H504.0V152.0H505.0V152.0H506.0V152.6H507.0V153.7H508.0V152.8H509.0V153.7H510.0V153.7H511.0V153.7H512.0V153.7H513.0V153.7H514.0V151.2H515.0V152.4H516.0V152.3H517.0V153.7H518.0V153.7H519.0V151.4H520.0V151.9H521.0V150.8H522.0V153.7H523.0V150.8H524.0V153.7H525.0V151.4H526.0V151.5H527.0V151.3H528.0V153.7H529.0V153.7H530.0V150.5H531.0V151.8H532.0V153.7H533.0V151.6H534.0V152.3H535.0V151.7H536.0V153.7H537.0V153.7H538.0V151.6H539.0V151.7H540.0V153.7H541.0V153.7H542.0V153.7H543.0V152.3H544.0V151.8H545.0V153.7H546.0V151.5H547.0V152.4H548.0V153.7H549.0V153.7H550.0V150.7H551.0V151.5H552.0V151.9H553.0V151.9H554.0V151.7H555.0V151.1H556.0V151.4H557.0V151.1H558.0V151.8H559.0V150.8H560.0V148.7H561.0V150.2H562.0V150.5H563.0V150.1H564.0V151.5H565.0V153.7H566.0V149.8H567.0V153.7H568.0V151.7H569.0V151.7H570.0V150.7H571.0V150.8H572.0V151.7H573.0V152.3H574.0V151.1H575.0V153.7H576.0V153.7H577.0V151.5H578.0V151.5H579.0V152.0H580.0V152.2H581.0V151.4H582.0V151.3H583.0V152.1H584.0V150.7H585.0V153.7H586.0V153.7H587.0V152.2H588.0V153.7H589.0V150.9H590.0V150.7H591.0V150.8H592.0V151.7H593.0V149.6H594.0V150.8H595.0V150.9H596.0V148.7H597.0V151.7H598.0V153.7H599.0V150.0H600.0V153.7H601.0V150.9H602.0V150.6H603.0V153.7H604.0V153.7H605.0V151.3H606.0V153.7H607.0V146.2H608.0V153.7H609.0V151.3H610.0V153.7H611.0V153.7H612.0V153.7H613.0V153.7H614.0V153.7H615.0V153.7H616.0V153.7H617.0V152.1H618.0V152.6H619.0V152.9H620.0V152.2H621.0V153.7H622.0V151.8H623.0V153.7H624.0V152.2H625.0V153.7H626.0V153.7H627.0V153.7H628.0V152.4H629.0V153.7H630.0V153.7H631.0V153.7H632.0V153.7H633.0V152.8H634.0V153.7H635.0V152.9H636.0V153.1H637.0V153.1H638.0V152.5H639.0V153.7H640.0V153.7H641.0V153.7H642.0V153.7H643.0V153.7H644.0V153.7H645.0V153.7H646.0V153.7H647.0V153.7H648.0V153.7H649.0V153.7H650.0V153.7H651.0V153.7H652.0V153.7H653.0V153.7H654.0V153.7H655.0V153.7H656.0V153.7H657.0V153.7H658.0V152.0H659.0V153.7H660.0V151.5H661.0V152.2H662.0V152.2H663.0V152.7H664.0V153.7H665.0V152.1H666.0V152.3H667.0V151.9H668.0V152.4H669.0V153.7H670.0V153.0H671.0V153.0H672.0V152.4H673.0V152.3H674.0V153.7H675.0V152.2H676.0V153.7H677.0V152.2H678.0V152.7H679.0V153.7H680.0V152.7H681.0V153.7Z" fill="#0a0a0a"/>
<path d="M304.0 175.5V175.5H305.0V174.7H306.0V175.5H307.0V174.5H308.0V174.5H309.0V175.0H310.0V174.6H311.0V174.7H312.0V174.7H313.0V174.5H314.0V174.3H315.0V173.9H316.0V175.5H317.0V175.0H318.0V174.1H319.0V174.5H320.0V174.9H321.0V174.6H322.0V174.5H323.0V175.0H324.0V174.0H325.0V175.5H326.0V175.5H327.0V174.7H328.0V174.1H329.0V174.7H330.0V174.7H331.0V173.4H332.0V173.5H333.0V173.9H334.0V174.2H335.0V174.2H336.0V175.1H337.0V175.5H338.0V174.3H339.0V174.7H340.0V172.3H341.0V172.9H342.0V175.5H343.0V173.2H344.0V171.9H345.0V173.8H346.0V166.4H347.0V172.8H348.0V170.0H349.0V171.4H350.0V165.5H351.0V168.4H352.0V172.4H353.0V170.0H354.0V173.2H355.0V169.7H356.0V173.3H357.0V168.5H358.0V175.5H359.0V164.8H360.0V175.5H361.0V166.0H362.0V170.8H363.0V164.6H364.0V175.5H365.0V170.4H366.0V175.5H367.0V175.5H368.0V171.8H369.0V171.7H370.0V170.5H371.0V170.6H372.0V170.5H373.0V169.0H374.0V175.5H375.0V173.5H376.0V170.6H377.0V166.5H378.0V171.3H379.0V172.5H380.0V174.1H381.0V171.6H382.0V175.5H383.0V172.1H384.0V175.5H385.0V175.5H386.0V167.6H387.0V171.8H388.0V167.4H389.0V167.5H390.0V171.1H391.0V175.5H392.0V169.9H393.0V167.9H394.0V166.0H395.0V166.9H396.0V166.6H397.0V166.8H398.0V175.5H399.0V175.5H400.0V170.7H401.0V168.7H402.0V171.4H403.0V169.1H404.0V175.5H405.0V172.9H406.0V171.4H407.0V167.3H408.0V172.1H409.0V169.9H410.0V172.9H411.0V168.9H412.0V163.7H413.0V171.9H414.0V171.1H415.0V166.0H416.0V171.1H417.0V170.6H418.0V165.5H419.0V167.9H420.0V168.7H421.0V163.9H422.0V175.5H423.0V167.9H424.0V175.5H425.0V171.1H426.0V163.2H427.0V173.1H428.0V172.6H429.0V170.4H430.0V161.9H431.0V172.8H432.0V171.3H433.0V172.2H434.0V173.9H435.0V173.6H436.0V175.5H437.0V169.1H438.0V175.5H439.0V162.5H440.0V167.9H441.0V167.4H442.0V167.4H443.0V171.9H444.0V172.9H445.0V170.4H446.0V175.5H447.0V167.1H448.0V167.7H449.0V166.6H450.0V167.4H451.0V169.9H452.0V173.2H453.0V175.5H454.0V172.4H455.0V172.4H456.0V169.8H457.0V174.6H458.0V174.9H459.0V175.5H460.0V175.5H461.0V175.5H462.0V175.5H463.0V174.9H464.0V175.5H465.0V174.7H466.0V175.5H467.0V174.7H468.0V175.5H469.0V175.0H470.0V175.5H471.0V175.5H472.0V174.5H473.0V174.3H474.0V175.5H475.0V172.5H476.0V171.7H477.0V175.5H478.0V168.8H479.0V167.9H480.0V172.9H481.0V169.2H482.0V172.6H483.0V167.8H484.0V173.1H485.0V172.8H486.0V171.2H487.0V167.1H488.0V173.3H489.0V172.5H490.0V175.5H491.0V173.9H492.0V172.2H493.0V165.3H494.0V157.5H495.0V165.8H496.0V172.1H497.0V169.5H498.0V171.6H499.0V167.6H500.0V175.5H501.0V175.5H502.0V174.7H503.0V167.3H504.0V171.6H505.0V172.8H506.0V166.5H507.0V168.9H508.0V175.5H509.0V173.0H510.0V171.3H511.0V170.9H512.0V166.2H513.0V163.4H514.0V168.8H515.0V162.8H516.0V162.5H517.0V167.8H518.0V170.7H519.0V175.5H520.0V175.5H521.0V175.5H522.0V171.1H523.0V169.5H524.0V175.5H525.0V157.5H526.0V170.6H527.0V171.5H528.0V174.7H529.0V175.5H530.0V175.5H531.0V172.4H532.0V169.7H533.0V170.7H534.0V173.7H535.0V168.1H536.0V169.0H537.0V171.1H538.0V170.3H539.0V169.6H540.0V172.0H541.0V175.5H542.0V173.0H543.0V170.1H544.0V168.8H545.0V167.5H546.0V170.0H547.0V175.5H548.0V175.5H549.0V175.5H550.0V171.7H551.0V168.4H552.0V174.0H553.0V173.1H554.0V174.9H555.0V165.0H556.0V168.2H557.0V170.9H558.0V172.5H559.0V169.6H560.0V174.3H561.0V173.7H562.0V170.0H563.0V158.5H564.0V171.5H565.0V175.5H566.0V175.5H567.0V161.9H568.0V162.8H569.0V163.7H570.0V165.5H571.0V166.7H572.0V169.2H573.0V175.5H574.0V171.6H575.0V171.5H576.0V166.8H577.0V171.0H578.0V169.5H579.0V173.2H580.0V175.5H581.0V170.2H582.0V175.5H583.0V175.5H584.0V172.3H585.0V175.5H586.0V167.1H587.0V175.5H588.0V167.8H589.0V170.8H590.0V172.1H591.0V175.5H592.0V172.9H593.0V164.5H594.0V172.0H595.0V170.3H596.0V175.5H597.0V175.5H598.0V171.8H599.0V163.3H600.0V162.5H601.0V174.5H602.0V175.5H603.0V174.7H604.0V174.6H605.0V175.5H606.0V175.5H607.0V175.5H608.0V175.5H609.0V175.5H610.0V175.0H611.0V175.5H612.0V175.5H613.0V174.6H614.0V174.2H615.0V175.5H616.0V175.5H617.0V175.5H618.0V174.7H619.0V175.0H620.0V175.5H621.0V175.0H622.0V175.5H623.0V175.0H624.0V175.5H625.0V174.3H626.0V175.5H627.0V174.8H628.0V175.5H629.0V175.5H630.0V175.5H631.0V175.5H632.0V174.7H633.0V175.5H634.0V175.5H635.0V175.5H636.0V175.5H637.0V175.5H638.0V175.5H639.0V175.5H640.0V175.5H641.0V175.5H642.0V175.5H643.0V175.5H644.0V175.5H645.0V175.5H646.0V175.5H647.0V175.5H648.0V175.5H649.0V175.5H650.0V175.5H651.0V174.5H652.0V174.7H653.0V175.5H654.0V175.5H655.0V175.5H656.0V175.5H657.0V175.5H658.0V174.3H659.0V175.5H660.0V175.5H661.0V175.5H662.0V174.2H663.0V174.1H664.0V174.9H665.0V175.5H666.0V175.5H667.0V175.5H668.0V175.5H669.0V175.5H670.0V175.5H671.0V175.5H672.0V175.5H673.0V175.5H674.0V175.5H675.0V175.5H676.0V175.1H677.0V174.8H678.0V174.9H679.0V174.5H680.0V175.5H681.0V175.5Z" fill="#0a0a0a"/>
<path d="M304.0 56.9V55.2H305.0V56.9H306.0V56.9H307.0V56.9H308.0V55.5H309.0V56.0H310.0V55.7H311.0V55.4H312.0V55.3H313.0V56.9H314.0V56.9H315.0V56.9H316.0V56.9H317.0V56.9H318.0V55.4H319.0V55.6H320.0V55.5H321.0V55.6H322.0V55.7H323.0V56.9H324.0V56.9H325.0V56.9H326.0V56.9H327.0V56.9H328.0V56.9H329.0V55.6H330.0V55.5H331.0V56.9H332.0V56.9H333.0V56.9H334.0V56.9H335.0V56.0H336.0V55.7H337.0V55.8H338.0V55.9H339.0V55.2H340.0V56.9H341.0V56.9H342.0V56.9H343.0V56.9H344.0V56.9H345.0V56.9H346.0V56.9H347.0V56.9H348.0V56.9H349.0V55.6H350.0V56.9H351.0V56.9H352.0V56.9H353.0V56.9H354.0V56.0H355.0V55.7H356.0V55.4H357.0V56.1H358.0V55.9H359.0V56.9H360.0V56.9H361.0V56.9H362.0V56.9H363.0V56.0H364.0V55.6H365.0V55.6H366.0V55.2H367.0V55.2H368.0V56.9H369.0V56.9H370.0V56.9H371.0V56.9H372.0V55.8H373.0V56.0H374.0V55.3H375.0V55.7H376.0V56.0H377.0V56.9H378.0V56.9H379.0V56.9H380.0V56.9H381.0V56.9H382.0V55.8H383.0V55.2H384.0V56.9H385.0V56.9H386.0V56.9H387.0V56.9H388.0V56.9H389.0V56.9H390.0V56.9H391.0V56.1H392.0V55.7H393.0V55.5H394.0V56.0H395.0V55.8H396.0V56.9H397.0V56.9H398.0V56.9H399.0V56.9H400.0V56.9H401.0V55.7H402.0V55.7H403.0V55.3H404.0V55.7H405.0V55.3H406.0V56.9H407.0V56.9H408.0V56.9H409.0V56.9H410.0V55.8H411.0V55.9H412.0V56.9H413.0V56.9H414.0V56.9H415.0V56.9H416.0V56.9H417.0V56.9H418.0V56.9H419.0V56.9H420.0V55.6H421.0V55.7H422.0V55.5H423.0V55.4H424.0V55.6H425.0V56.9H426.0V56.9H427.0V56.9H428.0V56.9H429.0V55.3H430.0V55.9H431.0V55.7H432.0V56.0H433.0V56.9H434.0V56.9H435.0V56.9H436.0V56.9H437.0V55.2H438.0V55.5H439.0V55.6H440.0V56.9H441.0V56.9H442.0V56.9H443.0V56.9H444.0V56.9H445.0V56.9H446.0V56.9H447.0V55.6H448.0V55.5H449.0V55.9H450.0V56.9H451.0V56.9H452.0V56.9H453.0V56.9H454.0V56.9H455.0V56.9H456.0V56.9H457.0V56.9H458.0V56.0H459.0V56.9H460.0V56.9H461.0V56.9H462.0V56.9H463.0V56.9H464.0V56.9H465.0V56.9H466.0V55.4H467.0V55.4H468.0V55.2H469.0V56.9H470.0V56.9H471.0V56.9H472.0V56.9H473.0V55.3H474.0V56.9H475.0V56.9H476.0V56.9H477.0V56.9H478.0V56.9H479.0V56.9H480.0V56.9H481.0V55.3H482.0V55.7H483.0V55.9H484.0V55.3H485.0V56.9H486.0V56.9H487.0V56.9H488.0V55.7H489.0V56.9H490.0V56.9H491.0V56.9H492.0V56.9H493.0V56.9H494.0V56.9H495.0V56.1H496.0V56.0H497.0V56.9H498.0V56.9H499.0V56.9H500.0V56.9H501.0V56.9H502.0V56.9H503.0V56.9H504.0V56.9H505.0V56.9H506.0V56.1H507.0V55.8H508.0V55.7H509.0V55.6H510.0V56.0H511.0V56.9H512.0V56.9H513.0V56.9H514.0V56.9H515.0V55.8H516.0V55.7H517.0V55.7H518.0V55.3H519.0V55.3H520.0V56.9H521.0V56.9H522.0V56.9H523.0V56.9H524.0V56.9H525.0V56.9H526.0V55.7H527.0V55.7H528.0V55.3H529.0V55.9H530.0V55.8H531.0V56.9H532.0V56.9H533.0V56.9H534.0V56.9H535.0V56.9H536.0V56.9H537.0V56.9H538.0V56.9H539.0V56.9H540.0V56.0H541.0V55.3H542.0V55.4H543.0V56.9H544.0V56.9H545.0V56.9H546.0V56.9H547.0V56.9H548.0V55.3H549.0V55.2H550.0V55.8H551.0V55.5H552.0V56.9H553.0V56.9H554.0V55.5H555.0V55.2H556.0V56.9H557.0V56.9H558.0V56.9H559.0V56.9H560.0V56.9H561.0V56.9H562.0V56.9H563.0V55.3H564.0V55.9H565.0V55.3H566.0V56.9H567.0V56.9H568.0V56.9H569.0V56.9H570.0V56.9H571.0V55.6H572.0V56.9H573.0V56.9H574.0V56.9H575.0V56.9H576.0V56.9H577.0V56.9H578.0V56.9H579.0V56.9H580.0V55.2H581.0V55.8H582.0V55.4H583.0V55.9H584.0V56.9H585.0V56.9H586.0V56.9H587.0V56.9H588.0V56.9H589.0V56.9H590.0V56.9H591.0V56.9H592.0V55.6H593.0V55.9H594.0V55.5H595.0V55.9H596.0V56.9H597.0V56.9H598.0V56.9H599.0V56.9H600.0V56.9H601.0V55.2H602.0V56.9H603.0V56.9H604.0V56.9H605.0V56.9H606.0V56.9H607.0V56.9H608.0V56.9H609.0V55.5H610.0V55.4H611.0V56.9H612.0V56.9H613.0V56.9H614.0V56.9H615.0V56.9H616.0V56.9H617.0V56.9H618.0V56.9H619.0V56.9H620.0V55.4H621.0V56.1H622.0V55.7H623.0V55.8H624.0V56.0H625.0V56.9H626.0V56.9H627.0V56.9H628.0V56.9H629.0V56.9H630.0V56.9H631.0V56.0H632.0V55.6H633.0V55.5H634.0V55.6H635.0V56.9H636.0V56.9H637.0V56.9H638.0V56.9H639.0V56.9H640.0V56.9H641.0V56.0H642.0V56.1H643.0V55.8H644.0V56.9H645.0V56.9H646.0V56.9H647.0V56.9H648.0V56.9H649.0V56.9H650.0V55.8H651.0V55.5H652.0V55.9H653.0V56.9H654.0V56.9H655.0V56.9H656.0V56.9H657.0V56.9H658.0V56.9H659.0V55.5H660.0V55.2H661.0V55.8H662.0V55.5H663.0V56.9H664.0V56.9H665.0V56.9H666.0V56.9H667.0V56.9H668.0V56.9H669.0V56.9H670.0V56.9H671.0V55.5H672.0V55.5H673.0V56.9H674.0V56.9H675.0V56.9H676.0V56.0H677.0V56.0H678.0V55.7H679.0V55.7H680.0V56.9H681.0V56.9Z" fill="#6fcdf3"/>
<path d="M304.0 85.6V83.7H305.0V83.9H306.0V84.3H307.0V84.1H308.0V85.6H309.0V85.6H310.0V84.5H311.0V84.4H312.0V84.4H313.0V83.9H314.0V85.6H315.0V85.6H316.0V83.6H317.0V83.5H318.0V85.6H319.0V85.6H320.0V84.0H321.0V85.6H322.0V85.6H323.0V85.6H324.0V85.6H325.0V85.6H326.0V83.9H327.0V84.0H328.0V83.7H329.0V83.5H330.0V84.3H331.0V85.6H332.0V85.6H333.0V85.6H334.0V83.6H335.0V84.3H336.0V83.8H337.0V85.6H338.0V85.6H339.0V85.6H340.0V83.6H341.0V83.7H342.0V84.5H343.0V83.9H344.0V85.6H345.0V85.6H346.0V85.6H347.0V85.6H348.0V84.2H349.0V84.3H350.0V83.8H351.0V84.0H352.0V85.6H353.0V85.6H354.0V85.6H355.0V85.6H356.0V85.6H357.0V85.6H358.0V84.2H359.0V83.8H360.0V85.6H361.0V85.6H362.0V85.6H363.0V85.6H364.0V85.6H365.0V83.6H366.0V83.5H367.0V83.7H368.0V83.6H369.0V84.3H370.0V85.6H371.0V85.6H372.0V85.6H373.0V85.6H374.0V84.6H375.0V83.9H376.0V84.2H377.0V84.1H378.0V85.6H379.0V85.6H380.0V85.6H381.0V85.6H382.0V85.6H383.0V85.6H384.0V85.6H385.0V85.6H386.0V85.6H387.0V84.2H388.0V83.8H389.0V83.9H390.0V85.6H391.0V85.6H392.0V85.6H393.0V85.6H394.0V85.6H395.0V85.6H396.0V84.2H397.0V83.9H398.0V84.4H399.0V85.6H400.0V85.6H401.0V85.6H402.0V85.6H403.0V85.6H404.0V85.6H405.0V84.0H406.0V84.2H407.0V85.6H408.0V85.6H409.0V85.6H410.0V85.6H411.0V83.7H412.0V84.5H413.0V85.6H414.0V85.6H415.0V85.6H416.0V85.6H417.0V85.6H418.0V85.6H419.0V84.4H420.0V84.4H421.0V84.6H422.0V84.0H423.0V85.6H424.0V85.6H425.0V85.6H426.0V85.6H427.0V85.6H428.0V85.6H429.0V83.9H430.0V84.2H431.0V85.6H432.0V85.6H433.0V85.6H434.0V85.6H435.0V85.6H436.0V85.6H437.0V83.6H438.0V83.5H439.0V84.6H440.0V83.8H441.0V85.6H442.0V85.6H443.0V85.6H444.0V85.6H445.0V85.6H446.0V85.6H447.0V85.6H448.0V85.6H449.0V84.4H450.0V85.6H451.0V85.6H452.0V84.2H453.0V83.6H454.0V83.7H455.0V85.6H456.0V85.6H457.0V85.6H458.0V84.2H459.0V84.3H460.0V83.7H461.0V83.7H462.0V85.6H463.0V85.6H464.0V85.6H465.0V85.6H466.0V84.2H467.0V83.9H468.0V83.8H469.0V85.6H470.0V85.6H471.0V85.6H472.0V85.6H473.0V85.6H474.0V83.9H475.0V84.4H476.0V84.3H477.0V83.7H478.0V84.1H479.0V85.6H480.0V85.6H481.0V85.6H482.0V85.6H483.0V85.6H484.0V85.6H485.0V85.6H486.0V85.6H487.0V83.6H488.0V85.6H489.0V85.6H490.0V85.6H491.0V85.6H492.0V85.6H493.0V85.6H494.0V84.5H495.0V83.6H496.0V84.3H497.0V84.0H498.0V85.6H499.0V85.6H500.0V85.6H501.0V84.3H502.0V84.4H503.0V84.1H504.0V85.6H505.0V85.6H506.0V85.6H507.0V85.6H508.0V85.6H509.0V85.6H510.0V85.6H511.0V85.6H512.0V84.0H513.0V84.5H514.0V84.6H515.0V85.6H516.0V85.6H517.0V85.6H518.0V85.6H519.0V85.6H520.0V85.6H521.0V84.6H522.0V84.3H523.0V84.5H524.0V85.6H525.0V85.6H526.0V85.6H527.0V84.1H528.0V84.2H529.0V85.6H530.0V85.6H531.0V85.6H532.0V85.6H533.0V85.6H534.0V85.6H535.0V85.6H536.0V85.6H537.0V84.0H538.0V84.4H539.0V83.9H540.0V83.7H541.0V84.4H542.0V85.6H543.0V85.6H544.0V85.6H545.0V85.6H546.0V85.6H547.0V85.6H548.0V85.6H549.0V85.6H550.0V83.7H551.0V83.5H552.0V85.6H553.0V85.6H554.0V85.6H555.0V85.6H556.0V85.6H557.0V85.6H558.0V84.4H559.0V84.6H560.0V84.5H561.0V84.5H562.0V85.6H563.0V85.6H564.0V84.2H565.0V85.6H566.0V85.6H567.0V85.6H568.0V85.6H569.0V85.6H570.0V85.6H571.0V84.6H572.0V84.1H573.0V83.6H574.0V84.6H575.0V84.2H576.0V85.6H577.0V85.6H578.0V85.6H579.0V85.6H580.0V85.6H581.0V85.6H582.0V83.7H583.0V83.7H584.0V83.8H585.0V84.2H586.0V83.7H587.0V85.6H588.0V85.6H589.0V85.6H590.0V85.6H591.0V85.6H592.0V85.6H593.0V84.2H594.0V85.6H595.0V85.6H596.0V85.6H597.0V85.6H598.0V85.6H599.0V85.6H600.0V85.6H601.0V85.6H602.0V85.6H603.0V83.6H604.0V83.9H605.0V84.6H606.0V84.5H607.0V85.6H608.0V85.6H609.0V85.6H610.0V85.6H611.0V85.6H612.0V85.6H613.0V83.8H614.0V84.1H615.0V84.3H616.0V85.6H617.0V85.6H618.0V85.6H619.0V85.6H620.0V85.6H621.0V85.6H622.0V85.6H623.0V85.6H624.0V84.2H625.0V84.3H626.0V83.6H627.0V85.6H628.0V85.6H629.0V85.6H630.0V85.6H631.0V85.6H632.0V85.6H633.0V85.6H634.0V85.6H635.0V85.6H636.0V84.3H637.0V84.4H638.0V84.4H639.0V85.6H640.0V85.6H641.0V85.6H642.0V84.0H643.0V85.6H644.0V85.6H645.0V85.6H646.0V85.6H647.0V84.3H648.0V84.5H649.0V85.6H650.0V85.6H651.0V85.6H652.0V85.6H653.0V84.4H654.0V84.6H655.0V84.2H656.0V85.6H657.0V85.6H658.0V85.6H659.0V85.6H660.0V85.6H661.0V85.6H662.0V85.6H663.0V84.5H664.0V85.6H665.0V85.6H666.0V85.6H667.0V85.6H668.0V85.6H669.0V85.6H670.0V85.6H671.0V85.6H672.0V84.6H673.0V84.5H674.0V84.6H675.0V84.0H676.0V84.0H677.0V85.6H678.0V85.6H679.0V85.6H680.0V85.6H681.0V85.6Z" fill="#6fcdf3"/>
<path d="M466.8 56.9 L467 55.5 L469.5 55 L471.2 54.2 L471.8 52.3 L472.9 52.3 L473.4 54 L475.5 54.8 L479.2 55.4 L479.4 56.9Z" fill="#6fcdf3"/>
<path d="M466.8 85.6 L467.2 84.4 L469.2 83.8 L470 80 L470.6 74 L471.1 67 L471.5 60 L472.9 60 L473.4 64 L473.9 67 L474.2 72 L475 78.5 L476.2 80.5 L477 83.8 L479.4 84.4 L479.6 85.6Z" fill="#6fcdf3"/>
<path d="M441.8 108.6 L445 108.2 L448.3 107.3 L450.5 106.2 L452.3 105.3 L454.3 105.3 L455.3 102 L455.9 97.5 L456.6 97 L457.2 101 L457.9 106.5 L458.7 108.6 Z M460.5 108.6 L461.2 106 L462 103.5 L462.7 102.8 L464 103 L465.5 102.8 L467.9 102 L469.9 101.1 L471.2 102.2 L472.8 104.9 L475.2 106.9 L477.5 107.9 L479.8 108.6Z" fill="#f39b3a"/>
<path d="M442.2 131 L445 130.4 L448.3 129.2 L450.2 127.2 L451.4 125.4 L452.7 124.1 L454 126 L454.8 125 L455.5 118 L456.1 113.2 L456.7 113 L457.2 118 L457.9 128 L458.7 131 Z M460.5 131 L461.2 122 L461.9 115 L462.7 112.1 L464 111.2 L465.1 111.3 L466.2 114.5 L467.5 119.7 L468.5 116 L469.5 112.6 L470.3 112.1 L471.2 114 L472.3 118.5 L473.4 122 L474.4 124.9 L475.8 127.3 L477.6 129 L479.2 130.4 L481 131Z" fill="#f39b3a"/>
<rect x="347.5" y="107.8" width="9" height="0.9" fill="#f39b3a" opacity="0.55"/><rect x="347.5" y="129.9" width="9" height="0.9" fill="#f39b3a" opacity="0.55"/><rect x="439.3" y="130.2" width="1.5" height="0.8" fill="#f39b3a" opacity="0.5"/><rect x="481" y="130.2" width="3" height="0.8" fill="#f39b3a" opacity="0.4"/>
<line x1="304.0" y1="180.4" x2="457.0" y2="180.4" stroke="#2e3f9e" stroke-width="1.1"/>
<line x1="461.5" y1="180.4" x2="681.0" y2="180.4" stroke="#2e3f9e" stroke-width="1.1"/>
<rect x="355.0" y="179.0" width="11.5" height="2.8" fill="#2e3f9e" stroke="none" stroke-width="1"/>
<rect x="312.0" y="179.1" width="1.1" height="2.6" fill="#2e3f9e" stroke="none" stroke-width="1"/>
<rect x="320.0" y="179.1" width="1.1" height="2.6" fill="#2e3f9e" stroke="none" stroke-width="1"/>
<rect x="328.0" y="179.1" width="1.1" height="2.6" fill="#2e3f9e" stroke="none" stroke-width="1"/>
<rect x="336.0" y="179.1" width="1.1" height="2.6" fill="#2e3f9e" stroke="none" stroke-width="1"/>
<rect x="344.0" y="179.1" width="1.1" height="2.6" fill="#2e3f9e" stroke="none" stroke-width="1"/>
<rect x="352.0" y="179.1" width="1.1" height="2.6" fill="#2e3f9e" stroke="none" stroke-width="1"/>
<rect x="360.0" y="179.1" width="1.1" height="2.6" fill="#2e3f9e" stroke="none" stroke-width="1"/>
<rect x="368.0" y="179.1" width="1.1" height="2.6" fill="#2e3f9e" stroke="none" stroke-width="1"/>
<rect x="376.0" y="179.1" width="1.1" height="2.6" fill="#2e3f9e" stroke="none" stroke-width="1"/>
<rect x="384.0" y="179.1" width="1.1" height="2.6" fill="#2e3f9e" stroke="none" stroke-width="1"/>
<rect x="392.0" y="179.1" width="1.1" height="2.6" fill="#2e3f9e" stroke="none" stroke-width="1"/>
<rect x="400.0" y="179.1" width="1.1" height="2.6" fill="#2e3f9e" stroke="none" stroke-width="1"/>
<rect x="408.0" y="179.1" width="1.1" height="2.6" fill="#2e3f9e" stroke="none" stroke-width="1"/>
<rect x="416.0" y="179.1" width="1.1" height="2.6" fill="#2e3f9e" stroke="none" stroke-width="1"/>
<rect x="424.0" y="179.1" width="1.1" height="2.6" fill="#2e3f9e" stroke="none" stroke-width="1"/>
<rect x="432.0" y="179.1" width="1.1" height="2.6" fill="#2e3f9e" stroke="none" stroke-width="1"/>
<rect x="440.0" y="179.1" width="1.1" height="2.6" fill="#2e3f9e" stroke="none" stroke-width="1"/>
<rect x="448.0" y="179.1" width="1.1" height="2.6" fill="#2e3f9e" stroke="none" stroke-width="1"/>
<rect x="456.0" y="179.1" width="1.1" height="2.6" fill="#2e3f9e" stroke="none" stroke-width="1"/>
<rect x="466.0" y="179.1" width="1.1" height="2.6" fill="#2e3f9e" stroke="none" stroke-width="1"/>
<rect x="474.0" y="179.1" width="1.1" height="2.6" fill="#2e3f9e" stroke="none" stroke-width="1"/>
<rect x="482.0" y="179.1" width="1.1" height="2.6" fill="#2e3f9e" stroke="none" stroke-width="1"/>
<rect x="490.0" y="179.1" width="1.1" height="2.6" fill="#2e3f9e" stroke="none" stroke-width="1"/>
<rect x="498.0" y="179.1" width="1.1" height="2.6" fill="#2e3f9e" stroke="none" stroke-width="1"/>
<rect x="506.0" y="179.1" width="1.1" height="2.6" fill="#2e3f9e" stroke="none" stroke-width="1"/>
<rect x="514.0" y="179.1" width="1.1" height="2.6" fill="#2e3f9e" stroke="none" stroke-width="1"/>
<rect x="522.0" y="179.1" width="1.1" height="2.6" fill="#2e3f9e" stroke="none" stroke-width="1"/>
<rect x="530.0" y="179.1" width="1.1" height="2.6" fill="#2e3f9e" stroke="none" stroke-width="1"/>
<rect x="538.0" y="179.1" width="1.1" height="2.6" fill="#2e3f9e" stroke="none" stroke-width="1"/>
<rect x="546.0" y="179.1" width="1.1" height="2.6" fill="#2e3f9e" stroke="none" stroke-width="1"/>
<rect x="554.0" y="179.1" width="1.1" height="2.6" fill="#2e3f9e" stroke="none" stroke-width="1"/>
<rect x="562.0" y="179.1" width="1.1" height="2.6" fill="#2e3f9e" stroke="none" stroke-width="1"/>
<rect x="570.0" y="179.1" width="1.1" height="2.6" fill="#2e3f9e" stroke="none" stroke-width="1"/>
<rect x="578.0" y="179.1" width="1.1" height="2.6" fill="#2e3f9e" stroke="none" stroke-width="1"/>
<rect x="586.0" y="179.1" width="1.1" height="2.6" fill="#2e3f9e" stroke="none" stroke-width="1"/>
<rect x="594.0" y="179.1" width="1.1" height="2.6" fill="#2e3f9e" stroke="none" stroke-width="1"/>
<rect x="602.0" y="179.1" width="1.1" height="2.6" fill="#2e3f9e" stroke="none" stroke-width="1"/>
<rect x="610.0" y="179.1" width="1.1" height="2.6" fill="#2e3f9e" stroke="none" stroke-width="1"/>
<rect x="618.0" y="179.1" width="1.1" height="2.6" fill="#2e3f9e" stroke="none" stroke-width="1"/>
<rect x="626.0" y="179.1" width="1.1" height="2.6" fill="#2e3f9e" stroke="none" stroke-width="1"/>
<rect x="634.0" y="179.1" width="1.1" height="2.6" fill="#2e3f9e" stroke="none" stroke-width="1"/>
<rect x="642.0" y="179.1" width="1.1" height="2.6" fill="#2e3f9e" stroke="none" stroke-width="1"/>
<rect x="650.0" y="179.1" width="1.1" height="2.6" fill="#2e3f9e" stroke="none" stroke-width="1"/>
<rect x="658.0" y="179.1" width="1.1" height="2.6" fill="#2e3f9e" stroke="none" stroke-width="1"/>
<rect x="666.0" y="179.1" width="1.1" height="2.6" fill="#2e3f9e" stroke="none" stroke-width="1"/>
<rect x="674.0" y="179.1" width="1.1" height="2.6" fill="#2e3f9e" stroke="none" stroke-width="1"/>
<rect x="355.0" y="178.6" width="1.4" height="3.6" fill="#2e3f9e" stroke="none" stroke-width="1"/>
<rect x="413.0" y="178.6" width="1.4" height="3.6" fill="#2e3f9e" stroke="none" stroke-width="1"/>
<rect x="475.0" y="178.6" width="1.4" height="3.6" fill="#2e3f9e" stroke="none" stroke-width="1"/>
<rect x="493.0" y="178.6" width="1.4" height="3.6" fill="#2e3f9e" stroke="none" stroke-width="1"/>
<rect x="526.0" y="178.6" width="1.4" height="3.6" fill="#2e3f9e" stroke="none" stroke-width="1"/>
<rect x="538.0" y="178.6" width="1.4" height="3.6" fill="#2e3f9e" stroke="none" stroke-width="1"/>
<rect x="569.0" y="178.6" width="1.4" height="3.6" fill="#2e3f9e" stroke="none" stroke-width="1"/>
<rect x="663.5" y="178.6" width="1.4" height="3.6" fill="#2e3f9e" stroke="none" stroke-width="1"/>
<rect x="666.5" y="178.6" width="1.4" height="3.6" fill="#2e3f9e" stroke="none" stroke-width="1"/>
<rect x="456.0" y="178.9" width="1.2" height="3.0" fill="#2e3f9e" stroke="none" stroke-width="1"/>
<rect x="461.5" y="178.9" width="1.2" height="3.0" fill="#2e3f9e" stroke="none" stroke-width="1"/>
<rect x="304.0" y="179.0" width="4.0" height="2.8" fill="#2e3f9e" stroke="none" stroke-width="1"/>
<text transform="translate(392.70,191.60) scale(1,1.1)" font-size="7.5" text-anchor="middle" fill="#222">PSMA3-AS1</text>
<text transform="translate(580.50,191.30) scale(1,1.1)" font-size="7.6" text-anchor="middle" fill="#222">ARID4A</text>
<text transform="translate(0.0,214.4) scale(1,1.1)" font-size="12.0" fill="#1a1a1a">C.</text>
<text transform="translate(154.40,213.20) scale(1,1.1)" font-size="9" text-anchor="middle" fill="#262626">Transcription Gain Post Release</text>
<line x1="59.6" y1="245.3" x2="59.6" y2="271.0" stroke="#555555" stroke-width="1"/>
<line x1="59.6" y1="287.6" x2="59.6" y2="297.2" stroke="#555555" stroke-width="1"/>
<line x1="55.2" y1="245.3" x2="64.0" y2="245.3" stroke="#555555" stroke-width="1"/>
<line x1="55.2" y1="297.2" x2="64.0" y2="297.2" stroke="#555555" stroke-width="1"/>
<rect x="51.1" y="271.0" width="17.0" height="16.6" fill="#3274a1" stroke="none" stroke-width="1"/>
<path d="M50.8 278.15 L55.2 278.80 L55.2 279.20 L50.8 279.85Z M68.4 278.15 L64.0 278.80 L64.0 279.20 L68.4 279.85Z" fill="#ffffff" fill-opacity="0.85"/>
<line x1="55.2" y1="279.0" x2="64.0" y2="279.0" stroke="#555555" stroke-width="1.05"/>
<line x1="77.2" y1="270.6" x2="77.2" y2="284.9" stroke="#555555" stroke-width="1"/>
<line x1="77.2" y1="295.8" x2="77.2" y2="299.6" stroke="#555555" stroke-width="1"/>
<line x1="72.7" y1="270.6" x2="81.6" y2="270.6" stroke="#555555" stroke-width="1"/>
<line x1="72.7" y1="299.6" x2="81.6" y2="299.6" stroke="#555555" stroke-width="1"/>
<rect x="68.5" y="284.9" width="17.3" height="10.9" fill="#e1812c" stroke="none" stroke-width="1"/>
<path d="M68.2 291.65 L72.7 292.30 L72.7 292.70 L68.2 293.35Z M86.1 291.65 L81.6 292.30 L81.6 292.70 L86.1 293.35Z" fill="#ffffff" fill-opacity="0.85"/>
<line x1="72.7" y1="292.5" x2="81.6" y2="292.5" stroke="#555555" stroke-width="1.05"/>
<line x1="103.5" y1="248.5" x2="103.5" y2="273.3" stroke="#555555" stroke-width="1"/>
<line x1="103.5" y1="289.6" x2="103.5" y2="300.5" stroke="#555555" stroke-width="1"/>
<line x1="99.1" y1="248.5" x2="107.9" y2="248.5" stroke="#555555" stroke-width="1"/>
<line x1="99.1" y1="300.5" x2="107.9" y2="300.5" stroke="#555555" stroke-width="1"/>
<rect x="95.0" y="273.3" width="17.0" height="16.3" fill="#3274a1" stroke="none" stroke-width="1"/>
<path d="M94.7 281.05 L99.1 281.70 L99.1 282.10 L94.7 282.75Z M112.3 281.05 L107.9 281.70 L107.9 282.10 L112.3 282.75Z" fill="#ffffff" fill-opacity="0.85"/>
<line x1="99.1" y1="281.9" x2="107.9" y2="281.9" stroke="#555555" stroke-width="1.05"/>
<line x1="121.1" y1="246.5" x2="121.1" y2="272.3" stroke="#555555" stroke-width="1"/>
<line x1="121.1" y1="289.4" x2="121.1" y2="299.4" stroke="#555555" stroke-width="1"/>
<line x1="116.6" y1="246.5" x2="125.6" y2="246.5" stroke="#555555" stroke-width="1"/>
<line x1="116.6" y1="299.4" x2="125.6" y2="299.4" stroke="#555555" stroke-width="1"/>
<rect x="112.4" y="272.3" width="17.4" height="17.1" fill="#e1812c" stroke="none" stroke-width="1"/>
<path d="M112.1 280.55 L116.6 281.20 L116.6 281.60 L112.1 282.25Z M130.1 280.55 L125.6 281.20 L125.6 281.60 L130.1 282.25Z" fill="#ffffff" fill-opacity="0.85"/>
<line x1="116.6" y1="281.4" x2="125.6" y2="281.4" stroke="#555555" stroke-width="1.05"/>
<line x1="147.4" y1="241.2" x2="147.4" y2="269.2" stroke="#555555" stroke-width="1"/>
<line x1="147.4" y1="288.0" x2="147.4" y2="297.2" stroke="#555555" stroke-width="1"/>
<line x1="142.9" y1="241.2" x2="151.9" y2="241.2" stroke="#555555" stroke-width="1"/>
<line x1="142.9" y1="297.2" x2="151.9" y2="297.2" stroke="#555555" stroke-width="1"/>
<rect x="138.8" y="269.2" width="17.2" height="18.8" fill="#3274a1" stroke="none" stroke-width="1"/>
<path d="M138.5 278.35 L142.9 279.00 L142.9 279.40 L138.5 280.05Z M156.3 278.35 L151.9 279.00 L151.9 279.40 L156.3 280.05Z" fill="#ffffff" fill-opacity="0.85"/>
<line x1="142.9" y1="279.2" x2="151.9" y2="279.2" stroke="#555555" stroke-width="1.05"/>
<line x1="164.8" y1="228.7" x2="164.8" y2="260.8" stroke="#555555" stroke-width="1"/>
<line x1="164.8" y1="281.9" x2="164.8" y2="292.5" stroke="#555555" stroke-width="1"/>
<line x1="160.4" y1="228.7" x2="169.3" y2="228.7" stroke="#555555" stroke-width="1"/>
<line x1="160.4" y1="292.5" x2="169.3" y2="292.5" stroke="#555555" stroke-width="1"/>
<rect x="156.2" y="260.8" width="17.3" height="21.1" fill="#e1812c" stroke="none" stroke-width="1"/>
<path d="M155.9 271.45 L160.4 272.10 L160.4 272.50 L155.9 273.15Z M173.8 271.45 L169.3 272.10 L169.3 272.50 L173.8 273.15Z" fill="#ffffff" fill-opacity="0.85"/>
<line x1="160.4" y1="272.3" x2="169.3" y2="272.3" stroke="#555555" stroke-width="1.05"/>
<line x1="191.1" y1="246.5" x2="191.1" y2="272.7" stroke="#555555" stroke-width="1"/>
<line x1="191.1" y1="290.0" x2="191.1" y2="300.5" stroke="#555555" stroke-width="1"/>
<line x1="186.6" y1="246.5" x2="195.6" y2="246.5" stroke="#555555" stroke-width="1"/>
<line x1="186.6" y1="300.5" x2="195.6" y2="300.5" stroke="#555555" stroke-width="1"/>
<rect x="182.5" y="272.7" width="17.2" height="17.3" fill="#3274a1" stroke="none" stroke-width="1"/>
<path d="M182.2 279.55 L186.6 280.20 L186.6 280.60 L182.2 281.25Z M200.0 279.55 L195.6 280.20 L195.6 280.60 L200.0 281.25Z" fill="#ffffff" fill-opacity="0.85"/>
<line x1="186.6" y1="280.4" x2="195.6" y2="280.4" stroke="#555555" stroke-width="1.05"/>
<line x1="208.7" y1="229.1" x2="208.7" y2="259.0" stroke="#555555" stroke-width="1"/>
<line x1="208.7" y1="278.8" x2="208.7" y2="295.6" stroke="#555555" stroke-width="1"/>
<line x1="204.2" y1="229.1" x2="213.2" y2="229.1" stroke="#555555" stroke-width="1"/>
<line x1="204.2" y1="295.6" x2="213.2" y2="295.6" stroke="#555555" stroke-width="1"/>
<rect x="200.1" y="259.0" width="17.2" height="19.8" fill="#e1812c" stroke="none" stroke-width="1"/>
<path d="M199.8 267.75 L204.2 268.40 L204.2 268.80 L199.8 269.45Z M217.6 267.75 L213.2 268.40 L213.2 268.80 L217.6 269.45Z" fill="#ffffff" fill-opacity="0.85"/>
<line x1="204.2" y1="268.6" x2="213.2" y2="268.6" stroke="#555555" stroke-width="1.05"/>
<line x1="234.9" y1="260.4" x2="234.9" y2="280.8" stroke="#555555" stroke-width="1"/>
<line x1="234.9" y1="294.5" x2="234.9" y2="300.7" stroke="#555555" stroke-width="1"/>
<line x1="230.6" y1="260.4" x2="239.3" y2="260.4" stroke="#555555" stroke-width="1"/>
<line x1="230.6" y1="300.7" x2="239.3" y2="300.7" stroke="#555555" stroke-width="1"/>
<rect x="226.5" y="280.8" width="16.9" height="13.7" fill="#3274a1" stroke="none" stroke-width="1"/>
<path d="M226.2 287.15 L230.6 287.80 L230.6 288.20 L226.2 288.85Z M243.7 287.15 L239.3 287.80 L239.3 288.20 L243.7 288.85Z" fill="#ffffff" fill-opacity="0.85"/>
<line x1="230.6" y1="288.0" x2="239.3" y2="288.0" stroke="#555555" stroke-width="1.05"/>
<line x1="252.4" y1="233.2" x2="252.4" y2="260.4" stroke="#555555" stroke-width="1"/>
<line x1="252.4" y1="278.8" x2="252.4" y2="292.5" stroke="#555555" stroke-width="1"/>
<line x1="247.9" y1="233.2" x2="256.9" y2="233.2" stroke="#555555" stroke-width="1"/>
<line x1="247.9" y1="292.5" x2="256.9" y2="292.5" stroke="#555555" stroke-width="1"/>
<rect x="243.8" y="260.4" width="17.2" height="18.4" fill="#e1812c" stroke="none" stroke-width="1"/>
<path d="M243.5 268.35 L247.9 269.00 L247.9 269.40 L243.5 270.05Z M261.3 268.35 L256.9 269.00 L256.9 269.40 L261.3 270.05Z" fill="#ffffff" fill-opacity="0.85"/>
<line x1="247.9" y1="269.2" x2="256.9" y2="269.2" stroke="#555555" stroke-width="1.05"/>
<rect x="37.4" y="215.4" width="237.2" height="88.9" fill="none" stroke="#3a3a3a" stroke-width="1.1"/>
<line x1="35.7" y1="292.5" x2="37.4" y2="292.5" stroke="#3a3a3a" stroke-width="0.9"/>
<text transform="translate(35.00,295.50) scale(1,1.1)" font-size="7.5" text-anchor="end" fill="#262626">1</text>
<line x1="35.7" y1="280.4" x2="37.4" y2="280.4" stroke="#3a3a3a" stroke-width="0.9"/>
<text transform="translate(35.00,283.43) scale(1,1.1)" font-size="7.5" text-anchor="end" fill="#262626">2</text>
<line x1="35.7" y1="268.4" x2="37.4" y2="268.4" stroke="#3a3a3a" stroke-width="0.9"/>
<text transform="translate(35.00,271.36) scale(1,1.1)" font-size="7.5" text-anchor="end" fill="#262626">3</text>
<line x1="35.7" y1="256.3" x2="37.4" y2="256.3" stroke="#3a3a3a" stroke-width="0.9"/>
<text transform="translate(35.00,259.29) scale(1,1.1)" font-size="7.5" text-anchor="end" fill="#262626">4</text>
<line x1="35.7" y1="244.2" x2="37.4" y2="244.2" stroke="#3a3a3a" stroke-width="0.9"/>
<text transform="translate(35.00,247.22) scale(1,1.1)" font-size="7.5" text-anchor="end" fill="#262626">5</text>
<line x1="35.7" y1="232.2" x2="37.4" y2="232.2" stroke="#3a3a3a" stroke-width="0.9"/>
<text transform="translate(35.00,235.15) scale(1,1.1)" font-size="7.5" text-anchor="end" fill="#262626">6</text>
<line x1="35.7" y1="220.1" x2="37.4" y2="220.1" stroke="#3a3a3a" stroke-width="0.9"/>
<text transform="translate(35.00,223.08) scale(1,1.1)" font-size="7.5" text-anchor="end" fill="#262626">7</text>
<line x1="68.3" y1="304.3" x2="68.3" y2="306.0" stroke="#3a3a3a" stroke-width="0.9"/>
<text transform="translate(68.30,313.90) scale(1,1.1)" font-size="7.2" text-anchor="middle" fill="#262626">1</text>
<line x1="112.2" y1="304.3" x2="112.2" y2="306.0" stroke="#3a3a3a" stroke-width="0.9"/>
<text transform="translate(112.20,313.90) scale(1,1.1)" font-size="7.2" text-anchor="middle" fill="#262626">2</text>
<line x1="156.1" y1="304.3" x2="156.1" y2="306.0" stroke="#3a3a3a" stroke-width="0.9"/>
<text transform="translate(156.10,313.90) scale(1,1.1)" font-size="7.2" text-anchor="middle" fill="#262626">3</text>
<line x1="199.9" y1="304.3" x2="199.9" y2="306.0" stroke="#3a3a3a" stroke-width="0.9"/>
<text transform="translate(199.90,313.90) scale(1,1.1)" font-size="7.2" text-anchor="middle" fill="#262626">4</text>
<line x1="243.6" y1="304.3" x2="243.6" y2="306.0" stroke="#3a3a3a" stroke-width="0.9"/>
<text transform="translate(243.60,313.90) scale(1,1.1)" font-size="7.2" text-anchor="middle" fill="#262626">5</text>
<text transform="translate(165.00,325.50) scale(1,1.1)" font-size="9" text-anchor="middle" fill="#262626">Bins</text>
<text transform="translate(14.3,260.0) rotate(-90)" font-size="9" text-anchor="middle" fill="#262626">BrU Counts</text>
<text transform="translate(25.1,259.0) rotate(-90)" font-size="9" text-anchor="middle" fill="#262626">Log2(CPM+1)</text>
<path d="M59.6 240.9 V238.9 H77.2 V240.9" fill="none" stroke="#4a4a4a" stroke-width="0.85"/>
<path d="M68.38 233.00L68.96 234.49L70.56 234.59L69.33 235.61L69.73 237.16L68.38 236.30L67.02 237.16L67.42 235.61L66.19 234.59L67.79 234.49Z" fill="#333" stroke="#333" stroke-width="0.3"/>
<path d="M103.5 242.0 V240.0 H121.1 V242.0" fill="none" stroke="#4a4a4a" stroke-width="0.85"/>
<text transform="translate(112.30,238.10) scale(1,1.1)" font-size="6.2" text-anchor="middle" fill="#444">ns</text>
<path d="M147.4 224.6 V222.6 H164.8 V224.6" fill="none" stroke="#4a4a4a" stroke-width="0.85"/>
<path d="M148.47 216.70L149.06 218.19L150.66 218.29L149.43 219.31L149.83 220.86L148.47 220.00L147.12 220.86L147.52 219.31L146.29 218.29L147.89 218.19ZM153.57 216.70L154.16 218.19L155.76 218.29L154.53 219.31L154.93 220.86L153.57 220.00L152.22 220.86L152.62 219.31L151.39 218.29L152.99 218.19ZM158.67 216.70L159.26 218.19L160.86 218.29L159.63 219.31L160.03 220.86L158.67 220.00L157.32 220.86L157.72 219.31L156.49 218.29L158.09 218.19ZM163.78 216.70L164.36 218.19L165.96 218.29L164.73 219.31L165.13 220.86L163.78 220.00L162.42 220.86L162.82 219.31L161.59 218.29L163.19 218.19Z" fill="#333" stroke="#333" stroke-width="0.3"/>
<path d="M191.1 224.6 V222.6 H208.7 V224.6" fill="none" stroke="#4a4a4a" stroke-width="0.85"/>
<path d="M192.25 216.70L192.84 218.19L194.44 218.29L193.20 219.31L193.60 220.86L192.25 220.00L190.90 220.86L191.30 219.31L190.06 218.29L191.66 218.19ZM197.35 216.70L197.94 218.19L199.54 218.29L198.30 219.31L198.70 220.86L197.35 220.00L196.00 220.86L196.40 219.31L195.16 218.29L196.76 218.19ZM202.45 216.70L203.04 218.19L204.64 218.29L203.40 219.31L203.80 220.86L202.45 220.00L201.10 220.86L201.50 219.31L200.26 218.29L201.86 218.19ZM207.55 216.70L208.14 218.19L209.74 218.29L208.50 219.31L208.90 220.86L207.55 220.00L206.20 220.86L206.60 219.31L205.36 218.29L206.96 218.19Z" fill="#333" stroke="#333" stroke-width="0.3"/>
<path d="M234.9 229.3 V227.3 H252.4 V229.3" fill="none" stroke="#4a4a4a" stroke-width="0.85"/>
<path d="M236.03 221.40L236.61 222.89L238.21 222.99L236.98 224.01L237.38 225.56L236.03 224.70L234.67 225.56L235.07 224.01L233.84 222.99L235.44 222.89ZM241.12 221.40L241.71 222.89L243.31 222.99L242.08 224.01L242.48 225.56L241.12 224.70L239.77 225.56L240.17 224.01L238.94 222.99L240.54 222.89ZM246.22 221.40L246.81 222.89L248.41 222.99L247.18 224.01L247.58 225.56L246.22 224.70L244.87 225.56L245.27 224.01L244.04 222.99L245.64 222.89ZM251.33 221.40L251.91 222.89L253.51 222.99L252.28 224.01L252.68 225.56L251.33 224.70L249.97 225.56L250.37 224.01L249.14 222.99L250.74 222.89Z" fill="#333" stroke="#333" stroke-width="0.3"/>
<rect x="277.1" y="237.1" width="9.7" height="6.3" fill="#3274a1" stroke="none" stroke-width="1"/>
<text transform="translate(288.90,242.60) scale(1,1.1)" font-size="7.7" text-anchor="start" fill="#262626">DMSO</text>
<rect x="277.1" y="249.9" width="9.7" height="6.3" fill="#e1812c" stroke="none" stroke-width="1"/>
<text transform="translate(288.90,255.00) scale(1,1.1)" font-size="7.7" text-anchor="start" fill="#262626">DRB</text>
<text transform="translate(288.90,263.90) scale(1,1.1)" font-size="7.7" text-anchor="start" fill="#262626">Release</text>
<text transform="translate(0.2,348.0) scale(1,1.1)" font-size="12.0" fill="#1a1a1a">D.</text>
<text transform="translate(90.20,356.20) scale(1,1.1)" font-size="8.9" text-anchor="middle" fill="#262626">H3K27ac Gain</text>
<line x1="52.0" y1="391.7" x2="52.0" y2="410.8" stroke="#555555" stroke-width="1"/>
<line x1="52.0" y1="422.7" x2="52.0" y2="441.4" stroke="#555555" stroke-width="1"/>
<line x1="47.1" y1="391.7" x2="56.8" y2="391.7" stroke="#555555" stroke-width="1"/>
<line x1="47.1" y1="441.4" x2="56.8" y2="441.4" stroke="#555555" stroke-width="1"/>
<rect x="42.7" y="410.8" width="18.5" height="11.9" fill="#f6c9a3" stroke="none" stroke-width="1"/>
<path d="M42.4 415.35 L47.1 416.00 L47.1 416.40 L42.4 417.05Z M61.5 415.35 L56.8 416.00 L56.8 416.40 L61.5 417.05Z" fill="#ffffff" fill-opacity="0.85"/>
<line x1="47.1" y1="416.2" x2="56.8" y2="416.2" stroke="#555555" stroke-width="1.05"/>
<line x1="74.2" y1="391.7" x2="74.2" y2="409.7" stroke="#555555" stroke-width="1"/>
<line x1="74.2" y1="420.9" x2="74.2" y2="437.9" stroke="#555555" stroke-width="1"/>
<line x1="69.4" y1="391.7" x2="79.1" y2="391.7" stroke="#555555" stroke-width="1"/>
<line x1="69.4" y1="437.9" x2="79.1" y2="437.9" stroke="#555555" stroke-width="1"/>
<rect x="64.9" y="409.7" width="18.7" height="11.2" fill="#f2b78a" stroke="none" stroke-width="1"/>
<path d="M64.6 413.75 L69.4 414.40 L69.4 414.80 L64.6 415.45Z M83.9 413.75 L79.1 414.40 L79.1 414.80 L83.9 415.45Z" fill="#ffffff" fill-opacity="0.85"/>
<line x1="69.4" y1="414.6" x2="79.1" y2="414.6" stroke="#555555" stroke-width="1.05"/>
<line x1="97.5" y1="390.3" x2="97.5" y2="406.2" stroke="#555555" stroke-width="1"/>
<line x1="97.5" y1="416.7" x2="97.5" y2="433.3" stroke="#555555" stroke-width="1"/>
<line x1="92.7" y1="390.3" x2="102.3" y2="390.3" stroke="#555555" stroke-width="1"/>
<line x1="92.7" y1="433.3" x2="102.3" y2="433.3" stroke="#555555" stroke-width="1"/>
<rect x="88.3" y="406.2" width="18.4" height="10.5" fill="#eda36c" stroke="none" stroke-width="1"/>
<path d="M88.0 410.25 L92.7 410.90 L92.7 411.30 L88.0 411.95Z M107.0 410.25 L102.3 410.90 L102.3 411.30 L107.0 411.95Z" fill="#ffffff" fill-opacity="0.85"/>
<line x1="92.7" y1="411.1" x2="102.3" y2="411.1" stroke="#555555" stroke-width="1.05"/>
<line x1="119.8" y1="390.3" x2="119.8" y2="405.0" stroke="#555555" stroke-width="1"/>
<line x1="119.8" y1="415.5" x2="119.8" y2="430.2" stroke="#555555" stroke-width="1"/>
<line x1="115.0" y1="390.3" x2="124.7" y2="390.3" stroke="#555555" stroke-width="1"/>
<line x1="115.0" y1="430.2" x2="124.7" y2="430.2" stroke="#555555" stroke-width="1"/>
<rect x="110.5" y="405.0" width="18.7" height="10.5" fill="#e9964f" stroke="none" stroke-width="1"/>
<path d="M110.2 409.05 L115.0 409.70 L115.0 410.10 L110.2 410.75Z M129.5 409.05 L124.7 409.70 L124.7 410.10 L129.5 410.75Z" fill="#ffffff" fill-opacity="0.85"/>
<line x1="115.0" y1="409.9" x2="124.7" y2="409.9" stroke="#555555" stroke-width="1.05"/>
<line x1="143.1" y1="391.0" x2="143.1" y2="405.2" stroke="#555555" stroke-width="1"/>
<line x1="143.1" y1="415.0" x2="143.1" y2="429.3" stroke="#555555" stroke-width="1"/>
<line x1="138.2" y1="391.0" x2="147.9" y2="391.0" stroke="#555555" stroke-width="1"/>
<line x1="138.2" y1="429.3" x2="147.9" y2="429.3" stroke="#555555" stroke-width="1"/>
<rect x="133.8" y="405.2" width="18.5" height="9.8" fill="#e4842f" stroke="none" stroke-width="1"/>
<path d="M133.5 408.85 L138.2 409.50 L138.2 409.90 L133.5 410.55Z M152.6 408.85 L147.9 409.50 L147.9 409.90 L152.6 410.55Z" fill="#ffffff" fill-opacity="0.85"/>
<line x1="138.2" y1="409.7" x2="147.9" y2="409.7" stroke="#555555" stroke-width="1.05"/>
<rect x="40.7" y="358.7" width="113.8" height="84.8" fill="none" stroke="#3a3a3a" stroke-width="1.1"/>
<line x1="39.0" y1="361.1" x2="40.7" y2="361.1" stroke="#3a3a3a" stroke-width="0.9"/>
<text transform="translate(38.60,364.21) scale(1,1.1)" font-size="7.8" text-anchor="end" fill="#262626">3</text>
<line x1="39.0" y1="378.8" x2="40.7" y2="378.8" stroke="#3a3a3a" stroke-width="0.9"/>
<text transform="translate(38.60,381.91) scale(1,1.1)" font-size="7.8" text-anchor="end" fill="#262626">2</text>
<line x1="39.0" y1="396.5" x2="40.7" y2="396.5" stroke="#3a3a3a" stroke-width="0.9"/>
<text transform="translate(38.60,399.61) scale(1,1.1)" font-size="7.8" text-anchor="end" fill="#262626">1</text>
<line x1="39.0" y1="414.2" x2="40.7" y2="414.2" stroke="#3a3a3a" stroke-width="0.9"/>
<text transform="translate(38.60,417.31) scale(1,1.1)" font-size="7.8" text-anchor="end" fill="#262626">0</text>
<line x1="39.0" y1="431.9" x2="40.7" y2="431.9" stroke="#3a3a3a" stroke-width="0.9"/>
<text transform="translate(38.60,435.01) scale(1,1.1)" font-size="7.8" text-anchor="end" fill="#262626">-1</text>
<line x1="52.0" y1="443.5" x2="52.0" y2="445.2" stroke="#3a3a3a" stroke-width="0.9"/>
<text transform="translate(51.95,453.20) scale(1,1.1)" font-size="7.8" text-anchor="middle" fill="#262626">1</text>
<line x1="74.2" y1="443.5" x2="74.2" y2="445.2" stroke="#3a3a3a" stroke-width="0.9"/>
<text transform="translate(74.25,453.20) scale(1,1.1)" font-size="7.8" text-anchor="middle" fill="#262626">2</text>
<line x1="97.5" y1="443.5" x2="97.5" y2="445.2" stroke="#3a3a3a" stroke-width="0.9"/>
<text transform="translate(97.50,453.20) scale(1,1.1)" font-size="7.8" text-anchor="middle" fill="#262626">3</text>
<line x1="119.8" y1="443.5" x2="119.8" y2="445.2" stroke="#3a3a3a" stroke-width="0.9"/>
<text transform="translate(119.85,453.20) scale(1,1.1)" font-size="7.8" text-anchor="middle" fill="#262626">4</text>
<line x1="143.1" y1="443.5" x2="143.1" y2="445.2" stroke="#3a3a3a" stroke-width="0.9"/>
<text transform="translate(143.05,453.20) scale(1,1.1)" font-size="7.8" text-anchor="middle" fill="#262626">5</text>
<text transform="translate(102.40,463.70) scale(1,1.1)" font-size="9.3" text-anchor="middle" fill="#262626">Bins</text>
<text transform="translate(15.7,398.2) rotate(-90)" font-size="9" text-anchor="middle" fill="#262626">H3K27ac</text>
<text transform="translate(28.6,401.2) rotate(-90)" font-size="9" text-anchor="middle" fill="#262626">Log2FC.(DRB/DMSO)</text>
<path d="M52.0 389.9 V387.9 H74.2 V389.9" fill="none" stroke="#4a4a4a" stroke-width="0.85"/>
<path d="M55.45 382.00L56.04 383.49L57.64 383.59L56.40 384.61L56.80 386.16L55.45 385.30L54.10 386.16L54.50 384.61L53.26 383.59L54.86 383.49ZM60.55 382.00L61.14 383.49L62.74 383.59L61.50 384.61L61.90 386.16L60.55 385.30L59.20 386.16L59.60 384.61L58.36 383.59L59.96 383.49ZM65.65 382.00L66.24 383.49L67.84 383.59L66.60 384.61L67.00 386.16L65.65 385.30L64.30 386.16L64.70 384.61L63.46 383.59L65.06 383.49ZM70.75 382.00L71.34 383.49L72.94 383.59L71.70 384.61L72.10 386.16L70.75 385.30L69.40 386.16L69.80 384.61L68.56 383.59L70.16 383.49Z" fill="#333" stroke="#333" stroke-width="0.3"/>
<path d="M74.2 383.3 V381.3 H97.5 V383.3" fill="none" stroke="#4a4a4a" stroke-width="0.85"/>
<path d="M78.22 375.40L78.81 376.89L80.41 376.99L79.18 378.01L79.58 379.56L78.22 378.70L76.87 379.56L77.27 378.01L76.04 376.99L77.64 376.89ZM83.32 375.40L83.91 376.89L85.51 376.99L84.28 378.01L84.68 379.56L83.32 378.70L81.97 379.56L82.37 378.01L81.14 376.99L82.74 376.89ZM88.42 375.40L89.01 376.89L90.61 376.99L89.38 378.01L89.78 379.56L88.42 378.70L87.07 379.56L87.47 378.01L86.24 376.99L87.84 376.89ZM93.52 375.40L94.11 376.89L95.71 376.99L94.48 378.01L94.88 379.56L93.52 378.70L92.17 379.56L92.57 378.01L91.34 376.99L92.94 376.89Z" fill="#333" stroke="#333" stroke-width="0.3"/>
<path d="M97.5 377.6 V375.6 H119.8 V377.6" fill="none" stroke="#4a4a4a" stroke-width="0.85"/>
<path d="M101.02 369.70L101.61 371.19L103.21 371.29L101.98 372.31L102.38 373.86L101.02 373.00L99.67 373.86L100.07 372.31L98.84 371.29L100.44 371.19ZM106.12 369.70L106.71 371.19L108.31 371.29L107.08 372.31L107.48 373.86L106.12 373.00L104.77 373.86L105.17 372.31L103.94 371.29L105.54 371.19ZM111.22 369.70L111.81 371.19L113.41 371.29L112.18 372.31L112.58 373.86L111.22 373.00L109.87 373.86L110.27 372.31L109.04 371.29L110.64 371.19ZM116.32 369.70L116.91 371.19L118.51 371.29L117.28 372.31L117.68 373.86L116.32 373.00L114.97 373.86L115.37 372.31L114.14 371.29L115.74 371.19Z" fill="#333" stroke="#333" stroke-width="0.3"/>
<path d="M119.8 372.1 V370.1 H143.1 V372.1" fill="none" stroke="#4a4a4a" stroke-width="0.85"/>
<text transform="translate(131.45,368.90) scale(1,1.1)" font-size="6.2" text-anchor="middle" fill="#444">ns</text>
<path d="M97.5 366.6 V364.6 H143.1 V366.6" fill="none" stroke="#4a4a4a" stroke-width="0.85"/>
<path d="M112.62 358.70L113.21 360.19L114.81 360.29L113.58 361.31L113.98 362.86L112.62 362.00L111.27 362.86L111.67 361.31L110.44 360.29L112.04 360.19ZM117.72 358.70L118.31 360.19L119.91 360.29L118.68 361.31L119.08 362.86L117.72 362.00L116.37 362.86L116.77 361.31L115.54 360.29L117.14 360.19ZM122.83 358.70L123.41 360.19L125.01 360.29L123.78 361.31L124.18 362.86L122.83 362.00L121.47 362.86L121.87 361.31L120.64 360.29L122.24 360.19ZM127.92 358.70L128.51 360.19L130.11 360.29L128.88 361.31L129.28 362.86L127.92 362.00L126.57 362.86L126.97 361.31L125.74 360.29L127.34 360.19Z" fill="#333" stroke="#333" stroke-width="0.3"/>
<text transform="translate(154.5,348.2) scale(1,1.1)" font-size="12.0" fill="#1a1a1a">E.</text>
<text transform="translate(239.70,355.80) scale(1,1.1)" font-size="8.9" text-anchor="middle" fill="#262626">ER&#945; Gain</text>
<line x1="198.4" y1="391.3" x2="198.4" y2="410.0" stroke="#555555" stroke-width="1"/>
<line x1="198.4" y1="422.6" x2="198.4" y2="441.5" stroke="#555555" stroke-width="1"/>
<line x1="193.7" y1="391.3" x2="203.1" y2="391.3" stroke="#555555" stroke-width="1"/>
<line x1="193.7" y1="441.5" x2="203.1" y2="441.5" stroke="#555555" stroke-width="1"/>
<rect x="189.3" y="410.0" width="18.2" height="12.6" fill="#9a92bf" stroke="none" stroke-width="1"/>
<path d="M189.0 415.25 L193.7 415.90 L193.7 416.30 L189.0 416.95Z M207.8 415.25 L203.1 415.90 L203.1 416.30 L207.8 416.95Z" fill="#ffffff" fill-opacity="0.85"/>
<line x1="193.7" y1="416.1" x2="203.1" y2="416.1" stroke="#555555" stroke-width="1.05"/>
<line x1="220.9" y1="391.3" x2="220.9" y2="408.8" stroke="#555555" stroke-width="1"/>
<line x1="220.9" y1="420.9" x2="220.9" y2="438.4" stroke="#555555" stroke-width="1"/>
<line x1="216.2" y1="391.3" x2="225.6" y2="391.3" stroke="#555555" stroke-width="1"/>
<line x1="216.2" y1="438.4" x2="225.6" y2="438.4" stroke="#555555" stroke-width="1"/>
<rect x="211.8" y="408.8" width="18.2" height="12.1" fill="#6d65a2" stroke="none" stroke-width="1"/>
<path d="M211.5 413.95 L216.2 414.60 L216.2 415.00 L211.5 415.65Z M230.3 413.95 L225.6 414.60 L225.6 415.00 L230.3 415.65Z" fill="#ffffff" fill-opacity="0.85"/>
<line x1="216.2" y1="414.8" x2="225.6" y2="414.8" stroke="#555555" stroke-width="1.05"/>
<line x1="243.9" y1="391.3" x2="243.9" y2="408.1" stroke="#555555" stroke-width="1"/>
<line x1="243.9" y1="419.0" x2="243.9" y2="435.5" stroke="#555555" stroke-width="1"/>
<line x1="239.2" y1="391.3" x2="248.6" y2="391.3" stroke="#555555" stroke-width="1"/>
<line x1="239.2" y1="435.5" x2="248.6" y2="435.5" stroke="#555555" stroke-width="1"/>
<rect x="234.8" y="408.1" width="18.2" height="10.9" fill="#4f4889" stroke="none" stroke-width="1"/>
<path d="M234.5 412.35 L239.2 413.00 L239.2 413.40 L234.5 414.05Z M253.3 412.35 L248.6 413.00 L248.6 413.40 L253.3 414.05Z" fill="#ffffff" fill-opacity="0.85"/>
<line x1="239.2" y1="413.2" x2="248.6" y2="413.2" stroke="#555555" stroke-width="1.05"/>
<line x1="266.9" y1="390.1" x2="266.9" y2="408.0" stroke="#555555" stroke-width="1"/>
<line x1="266.9" y1="419.0" x2="266.9" y2="436.0" stroke="#555555" stroke-width="1"/>
<line x1="262.2" y1="390.1" x2="271.7" y2="390.1" stroke="#555555" stroke-width="1"/>
<line x1="262.2" y1="436.0" x2="271.7" y2="436.0" stroke="#555555" stroke-width="1"/>
<rect x="257.9" y="408.0" width="18.1" height="11.0" fill="#363172" stroke="none" stroke-width="1"/>
<path d="M257.6 412.35 L262.2 413.00 L262.2 413.40 L257.6 414.05Z M276.3 412.35 L271.7 413.00 L271.7 413.40 L276.3 414.05Z" fill="#ffffff" fill-opacity="0.85"/>
<line x1="262.2" y1="413.2" x2="271.7" y2="413.2" stroke="#555555" stroke-width="1.05"/>
<line x1="290.0" y1="390.1" x2="290.0" y2="407.6" stroke="#555555" stroke-width="1"/>
<line x1="290.0" y1="419.0" x2="290.0" y2="436.0" stroke="#555555" stroke-width="1"/>
<line x1="285.3" y1="390.1" x2="294.7" y2="390.1" stroke="#555555" stroke-width="1"/>
<line x1="285.3" y1="436.0" x2="294.7" y2="436.0" stroke="#555555" stroke-width="1"/>
<rect x="280.9" y="407.6" width="18.2" height="11.4" fill="#211e5f" stroke="none" stroke-width="1"/>
<path d="M280.6 412.05 L285.3 412.70 L285.3 413.10 L280.6 413.75Z M299.4 412.05 L294.7 412.70 L294.7 413.10 L299.4 413.75Z" fill="#ffffff" fill-opacity="0.85"/>
<line x1="285.3" y1="412.9" x2="294.7" y2="412.9" stroke="#555555" stroke-width="1.05"/>
<rect x="186.8" y="358.6" width="114.7" height="84.6" fill="none" stroke="#3a3a3a" stroke-width="1.1"/>
<line x1="185.1" y1="370.5" x2="186.8" y2="370.5" stroke="#3a3a3a" stroke-width="0.9"/>
<text transform="translate(184.60,373.61) scale(1,1.1)" font-size="7.8" text-anchor="end" fill="#262626">3</text>
<line x1="185.1" y1="385.7" x2="186.8" y2="385.7" stroke="#3a3a3a" stroke-width="0.9"/>
<text transform="translate(184.60,388.81) scale(1,1.1)" font-size="7.8" text-anchor="end" fill="#262626">2</text>
<line x1="185.1" y1="400.9" x2="186.8" y2="400.9" stroke="#3a3a3a" stroke-width="0.9"/>
<text transform="translate(184.60,404.01) scale(1,1.1)" font-size="7.8" text-anchor="end" fill="#262626">1</text>
<line x1="185.1" y1="416.1" x2="186.8" y2="416.1" stroke="#3a3a3a" stroke-width="0.9"/>
<text transform="translate(184.60,419.21) scale(1,1.1)" font-size="7.8" text-anchor="end" fill="#262626">0</text>
<line x1="185.1" y1="431.3" x2="186.8" y2="431.3" stroke="#3a3a3a" stroke-width="0.9"/>
<text transform="translate(184.60,434.41) scale(1,1.1)" font-size="7.8" text-anchor="end" fill="#262626">-1</text>
<line x1="198.4" y1="443.2" x2="198.4" y2="444.9" stroke="#3a3a3a" stroke-width="0.9"/>
<text transform="translate(198.40,453.00) scale(1,1.1)" font-size="7.8" text-anchor="middle" fill="#262626"></text>
<line x1="220.9" y1="443.2" x2="220.9" y2="444.9" stroke="#3a3a3a" stroke-width="0.9"/>
<text transform="translate(220.90,453.00) scale(1,1.1)" font-size="7.8" text-anchor="middle" fill="#262626">2</text>
<line x1="243.9" y1="443.2" x2="243.9" y2="444.9" stroke="#3a3a3a" stroke-width="0.9"/>
<text transform="translate(243.90,453.00) scale(1,1.1)" font-size="7.8" text-anchor="middle" fill="#262626">3</text>
<line x1="266.9" y1="443.2" x2="266.9" y2="444.9" stroke="#3a3a3a" stroke-width="0.9"/>
<text transform="translate(266.95,453.00) scale(1,1.1)" font-size="7.8" text-anchor="middle" fill="#262626">4</text>
<line x1="290.0" y1="443.2" x2="290.0" y2="444.9" stroke="#3a3a3a" stroke-width="0.9"/>
<text transform="translate(290.00,453.00) scale(1,1.1)" font-size="7.8" text-anchor="middle" fill="#262626">5</text>
<text transform="translate(201.40,453.00) scale(1,1.1)" font-size="7.8" text-anchor="middle" fill="#262626">1</text>
<text transform="translate(247.00,464.40) scale(1,1.1)" font-size="9.3" text-anchor="middle" fill="#262626">Bins</text>
<text transform="translate(167.3,397.0) rotate(-90)" font-size="9" text-anchor="middle" fill="#262626">ER&#945;</text>
<text transform="translate(177.4,404.5) rotate(-90)" font-size="9" text-anchor="middle" fill="#262626">Log2FC.(DRB/DMSO)</text>
<path d="M198.4 389.5 V387.5 H220.9 V389.5" fill="none" stroke="#4a4a4a" stroke-width="0.85"/>
<path d="M202.00 381.60L202.59 383.09L204.19 383.19L202.95 384.21L203.35 385.76L202.00 384.90L200.65 385.76L201.05 384.21L199.81 383.19L201.41 383.09ZM207.10 381.60L207.69 383.09L209.29 383.19L208.05 384.21L208.45 385.76L207.10 384.90L205.75 385.76L206.15 384.21L204.91 383.19L206.51 383.09ZM212.20 381.60L212.79 383.09L214.39 383.19L213.15 384.21L213.55 385.76L212.20 384.90L210.85 385.76L211.25 384.21L210.01 383.19L211.61 383.09ZM217.30 381.60L217.89 383.09L219.49 383.19L218.25 384.21L218.65 385.76L217.30 384.90L215.95 385.76L216.35 384.21L215.11 383.19L216.71 383.09Z" fill="#333" stroke="#333" stroke-width="0.3"/>
<path d="M220.9 383.5 V381.5 H243.9 V383.5" fill="none" stroke="#4a4a4a" stroke-width="0.85"/>
<path d="M224.75 375.60L225.34 377.09L226.94 377.19L225.70 378.21L226.10 379.76L224.75 378.90L223.40 379.76L223.80 378.21L222.56 377.19L224.16 377.09ZM229.85 375.60L230.44 377.09L232.04 377.19L230.80 378.21L231.20 379.76L229.85 378.90L228.50 379.76L228.90 378.21L227.66 377.19L229.26 377.09ZM234.95 375.60L235.54 377.09L237.14 377.19L235.90 378.21L236.30 379.76L234.95 378.90L233.60 379.76L234.00 378.21L232.76 377.19L234.36 377.09ZM240.05 375.60L240.64 377.09L242.24 377.19L241.00 378.21L241.40 379.76L240.05 378.90L238.70 379.76L239.10 378.21L237.86 377.19L239.46 377.09Z" fill="#333" stroke="#333" stroke-width="0.3"/>
<path d="M243.9 377.3 V375.3 H266.9 V377.3" fill="none" stroke="#4a4a4a" stroke-width="0.85"/>
<path d="M252.88 369.40L253.46 370.89L255.06 370.99L253.83 372.01L254.23 373.56L252.88 372.70L251.52 373.56L251.92 372.01L250.69 370.99L252.29 370.89ZM257.98 369.40L258.56 370.89L260.16 370.99L258.93 372.01L259.33 373.56L257.98 372.70L256.62 373.56L257.02 372.01L255.79 370.99L257.39 370.89Z" fill="#333" stroke="#333" stroke-width="0.3"/>
<path d="M266.9 372.2 V370.2 H290.0 V372.2" fill="none" stroke="#4a4a4a" stroke-width="0.85"/>
<text transform="translate(278.48,369.10) scale(1,1.1)" font-size="6.2" text-anchor="middle" fill="#444">ns</text>
<path d="M243.9 366.4 V364.4 H290.0 V366.4" fill="none" stroke="#4a4a4a" stroke-width="0.85"/>
<path d="M264.40 358.50L264.99 359.99L266.59 360.09L265.35 361.11L265.75 362.66L264.40 361.80L263.05 362.66L263.45 361.11L262.21 360.09L263.81 359.99ZM269.50 358.50L270.09 359.99L271.69 360.09L270.45 361.11L270.85 362.66L269.50 361.80L268.15 362.66L268.55 361.11L267.31 360.09L268.91 359.99Z" fill="#333" stroke="#333" stroke-width="0.3"/>
<text transform="translate(-0.8,486.6) scale(1,1.1)" font-size="11.5" fill="#1a1a1a" font-weight="bold">F.</text>
<rect x="44.0" y="511.8" width="24.1" height="54.0" fill="#958dbb" stroke="none" stroke-width="1"/>
<rect x="68.6" y="498.6" width="24.0" height="67.2" fill="#37326f" stroke="none" stroke-width="1"/>
<rect x="104.7" y="511.8" width="24.0" height="54.0" fill="#958dbb" stroke="none" stroke-width="1"/>
<rect x="129.2" y="494.5" width="24.1" height="71.3" fill="#37326f" stroke="none" stroke-width="1"/>
<rect x="38.0" y="476.0" width="120.8" height="90.2" fill="none" stroke="#3a3a3a" stroke-width="1.1"/>
<line x1="36.3" y1="565.8" x2="38.0" y2="565.8" stroke="#3a3a3a" stroke-width="0.9"/>
<text transform="translate(35.60,568.84) scale(1,1.1)" font-size="7.6" text-anchor="end" fill="#262626">0.0</text>
<line x1="36.3" y1="555.0" x2="38.0" y2="555.0" stroke="#3a3a3a" stroke-width="0.9"/>
<text transform="translate(35.60,558.04) scale(1,1.1)" font-size="7.6" text-anchor="end" fill="#262626">0.2</text>
<line x1="36.3" y1="544.2" x2="38.0" y2="544.2" stroke="#3a3a3a" stroke-width="0.9"/>
<text transform="translate(35.60,547.24) scale(1,1.1)" font-size="7.6" text-anchor="end" fill="#262626">0.4</text>
<line x1="36.3" y1="533.4" x2="38.0" y2="533.4" stroke="#3a3a3a" stroke-width="0.9"/>
<text transform="translate(35.60,536.44) scale(1,1.1)" font-size="7.6" text-anchor="end" fill="#262626">0.6</text>
<line x1="36.3" y1="522.6" x2="38.0" y2="522.6" stroke="#3a3a3a" stroke-width="0.9"/>
<text transform="translate(35.60,525.64) scale(1,1.1)" font-size="7.6" text-anchor="end" fill="#262626">0.8</text>
<line x1="36.3" y1="511.8" x2="38.0" y2="511.8" stroke="#3a3a3a" stroke-width="0.9"/>
<text transform="translate(35.60,514.84) scale(1,1.1)" font-size="7.6" text-anchor="end" fill="#262626">1.0</text>
<line x1="36.3" y1="501.0" x2="38.0" y2="501.0" stroke="#3a3a3a" stroke-width="0.9"/>
<text transform="translate(35.60,504.04) scale(1,1.1)" font-size="7.6" text-anchor="end" fill="#262626">1.2</text>
<line x1="36.3" y1="490.2" x2="38.0" y2="490.2" stroke="#3a3a3a" stroke-width="0.9"/>
<text transform="translate(35.60,493.24) scale(1,1.1)" font-size="7.6" text-anchor="end" fill="#262626">1.4</text>
<line x1="36.3" y1="479.4" x2="38.0" y2="479.4" stroke="#3a3a3a" stroke-width="0.9"/>
<text transform="translate(35.60,482.44) scale(1,1.1)" font-size="7.6" text-anchor="end" fill="#262626">1.6</text>
<line x1="68.3" y1="566.2" x2="68.3" y2="567.9" stroke="#3a3a3a" stroke-width="0.9"/>
<text transform="translate(68.30,577.30) scale(1,1.1)" font-size="7.6" text-anchor="middle" fill="#262626"></text>
<line x1="128.9" y1="566.2" x2="128.9" y2="567.9" stroke="#3a3a3a" stroke-width="0.9"/>
<text transform="translate(128.90,577.30) scale(1,1.1)" font-size="7.6" text-anchor="middle" fill="#262626"></text>
<text transform="translate(70.20,577.30) scale(1,1.1)" font-size="7.6" text-anchor="middle" fill="#262626">NRIP1</text>
<text transform="translate(127.90,577.30) scale(1,1.1)" font-size="7.6" text-anchor="middle" fill="#262626">GREB1</text>
<text transform="translate(19.9,520.6) rotate(-90)" font-size="8.9" text-anchor="middle" fill="#262626">Fold Change w.r.t GAPDH</text>
<line x1="80.6" y1="480.8" x2="80.6" y2="514.5" stroke="#222" stroke-width="0.8"/>
<line x1="142.0" y1="487.3" x2="142.0" y2="501.3" stroke="#222" stroke-width="0.8"/>
<circle cx="78.9" cy="480.3" r="1.0" fill="#111"/>
<circle cx="81.3" cy="504.4" r="1.0" fill="#111"/>
<circle cx="82.5" cy="510.9" r="1.0" fill="#111"/>
<circle cx="143.2" cy="487.3" r="1.0" fill="#111"/>
<circle cx="139.1" cy="494.8" r="1.0" fill="#111"/>
<circle cx="139.1" cy="501.3" r="1.0" fill="#111"/>
<circle cx="54.6" cy="512.3" r="1.0" fill="#111"/>
<circle cx="56.0" cy="512.3" r="1.0" fill="#111"/>
<circle cx="115.6" cy="512.3" r="1.0" fill="#111"/>
<circle cx="117.0" cy="512.3" r="1.0" fill="#111"/>
<circle cx="118.4" cy="512.3" r="1.0" fill="#111"/>
<line x1="40.9" y1="481.5" x2="46.9" y2="481.5" stroke="#37326f" stroke-width="2.2"/>
<text transform="translate(47.20,484.60) scale(1,1.1)" font-size="7.5" text-anchor="start" fill="#262626">WT</text>
<line x1="40.9" y1="489.2" x2="46.9" y2="489.2" stroke="#958dbb" stroke-width="2.2"/>
<text transform="translate(47.20,492.30) scale(1,1.1)" font-size="7.5" text-anchor="start" fill="#262626">RRGG</text>
<text transform="translate(311.9,213.0) scale(1,1.1)" font-size="12.0" fill="#1a1a1a">G.</text>
</svg>
</body></html>
